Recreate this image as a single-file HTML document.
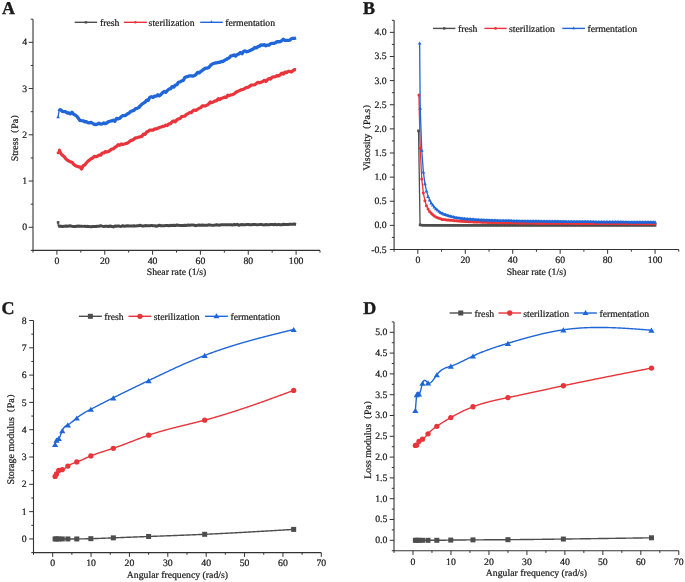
<!DOCTYPE html>
<html><head><meta charset="utf-8"><style>
html,body{margin:0;padding:0;background:#fff;width:685px;height:582px;overflow:hidden}
svg{display:block;will-change:transform}
text{text-rendering:geometricPrecision;font-family:"Liberation Serif",serif;font-size:9.75px;fill:#1a1a1a;stroke:#1a1a1a;stroke-width:0.22px}
</style></head><body>
<svg width="685" height="582" viewBox="0 0 685 582">
<rect width="685" height="582" fill="#fff"/>
<line x1="33.00" y1="250.40" x2="320.00" y2="250.40" stroke="#333" stroke-width="1.1"/>
<line x1="33.00" y1="250.90" x2="33.00" y2="19.20" stroke="#333" stroke-width="1.1"/>
<path d="M56.92,250.40v4.3 M104.75,250.40v4.3 M152.58,250.40v4.3 M200.42,250.40v4.3 M248.25,250.40v4.3 M296.08,250.40v4.3 M80.83,250.40v2.2 M128.67,250.40v2.2 M176.50,250.40v2.2 M224.33,250.40v2.2 M272.17,250.40v2.2 M320.00,250.40v2.2 M33.00,250.40v2.2 M33.00,227.28h-4.3 M33.00,181.04h-4.3 M33.00,134.80h-4.3 M33.00,88.56h-4.3 M33.00,42.32h-4.3 M33.00,250.40h-2.2 M33.00,204.16h-2.2 M33.00,157.92h-2.2 M33.00,111.68h-2.2 M33.00,65.44h-2.2 M33.00,19.20h-2.2" stroke="#333" stroke-width="1" fill="none"/>
<text x="56.92" y="263.60" text-anchor="middle">0</text>
<text x="104.75" y="263.60" text-anchor="middle">20</text>
<text x="152.58" y="263.60" text-anchor="middle">40</text>
<text x="200.42" y="263.60" text-anchor="middle">60</text>
<text x="248.25" y="263.60" text-anchor="middle">80</text>
<text x="296.08" y="263.60" text-anchor="middle">100</text>
<text x="27.20" y="230.28" text-anchor="end">0</text>
<text x="27.20" y="184.04" text-anchor="end">1</text>
<text x="27.20" y="137.80" text-anchor="end">2</text>
<text x="27.20" y="91.56" text-anchor="end">3</text>
<text x="27.20" y="45.32" text-anchor="end">4</text>
<line x1="394.10" y1="249.50" x2="678.80" y2="249.50" stroke="#333" stroke-width="1.1"/>
<line x1="394.10" y1="250.00" x2="394.10" y2="20.30" stroke="#333" stroke-width="1.1"/>
<path d="M417.82,249.50v4.3 M465.27,249.50v4.3 M512.73,249.50v4.3 M560.17,249.50v4.3 M607.62,249.50v4.3 M655.08,249.50v4.3 M441.55,249.50v2.2 M489.00,249.50v2.2 M536.45,249.50v2.2 M583.90,249.50v2.2 M631.35,249.50v2.2 M678.80,249.50v2.2 M394.10,249.50v2.2 M394.10,249.50h-4.3 M394.10,225.37h-4.3 M394.10,201.25h-4.3 M394.10,177.12h-4.3 M394.10,152.99h-4.3 M394.10,128.87h-4.3 M394.10,104.74h-4.3 M394.10,80.62h-4.3 M394.10,56.49h-4.3 M394.10,32.36h-4.3 M394.10,237.44h-2.2 M394.10,213.31h-2.2 M394.10,189.18h-2.2 M394.10,165.06h-2.2 M394.10,140.93h-2.2 M394.10,116.81h-2.2 M394.10,92.68h-2.2 M394.10,68.55h-2.2 M394.10,44.43h-2.2 M394.10,20.30h-2.2" stroke="#333" stroke-width="1" fill="none"/>
<text x="417.82" y="263.30" text-anchor="middle">0</text>
<text x="465.27" y="263.30" text-anchor="middle">20</text>
<text x="512.73" y="263.30" text-anchor="middle">40</text>
<text x="560.17" y="263.30" text-anchor="middle">60</text>
<text x="607.62" y="263.30" text-anchor="middle">80</text>
<text x="655.08" y="263.30" text-anchor="middle">100</text>
<text x="386.60" y="252.50" text-anchor="end">-0.5</text>
<text x="386.60" y="228.37" text-anchor="end">0.0</text>
<text x="386.60" y="204.25" text-anchor="end">0.5</text>
<text x="386.60" y="180.12" text-anchor="end">1.0</text>
<text x="386.60" y="155.99" text-anchor="end">1.5</text>
<text x="386.60" y="131.87" text-anchor="end">2.0</text>
<text x="386.60" y="107.74" text-anchor="end">2.5</text>
<text x="386.60" y="83.62" text-anchor="end">3.0</text>
<text x="386.60" y="59.49" text-anchor="end">3.5</text>
<text x="386.60" y="35.36" text-anchor="end">4.0</text>
<line x1="33.50" y1="552.60" x2="321.30" y2="552.60" stroke="#333" stroke-width="1.1"/>
<line x1="33.50" y1="553.10" x2="33.50" y2="320.50" stroke="#333" stroke-width="1.1"/>
<path d="M52.69,552.60v4.3 M91.06,552.60v4.3 M129.43,552.60v4.3 M167.81,552.60v4.3 M206.18,552.60v4.3 M244.55,552.60v4.3 M282.93,552.60v4.3 M321.30,552.60v4.3 M71.87,552.60v2.2 M110.25,552.60v2.2 M148.62,552.60v2.2 M186.99,552.60v2.2 M225.37,552.60v2.2 M263.74,552.60v2.2 M302.11,552.60v2.2 M33.50,552.60v2.2 M33.50,538.95h-4.3 M33.50,511.64h-4.3 M33.50,484.34h-4.3 M33.50,457.03h-4.3 M33.50,429.72h-4.3 M33.50,402.42h-4.3 M33.50,375.11h-4.3 M33.50,347.81h-4.3 M33.50,320.50h-4.3 M33.50,552.60h-2.2 M33.50,525.29h-2.2 M33.50,497.99h-2.2 M33.50,470.68h-2.2 M33.50,443.38h-2.2 M33.50,416.07h-2.2 M33.50,388.76h-2.2 M33.50,361.46h-2.2 M33.50,334.15h-2.2" stroke="#333" stroke-width="1" fill="none"/>
<text x="52.69" y="566.20" text-anchor="middle">0</text>
<text x="91.06" y="566.20" text-anchor="middle">10</text>
<text x="129.43" y="566.20" text-anchor="middle">20</text>
<text x="167.81" y="566.20" text-anchor="middle">30</text>
<text x="206.18" y="566.20" text-anchor="middle">40</text>
<text x="244.55" y="566.20" text-anchor="middle">50</text>
<text x="282.93" y="566.20" text-anchor="middle">60</text>
<text x="321.30" y="566.20" text-anchor="middle">70</text>
<text x="26.60" y="542.05" text-anchor="end">0</text>
<text x="26.60" y="514.74" text-anchor="end">1</text>
<text x="26.60" y="487.44" text-anchor="end">2</text>
<text x="26.60" y="460.13" text-anchor="end">3</text>
<text x="26.60" y="432.82" text-anchor="end">4</text>
<text x="26.60" y="405.52" text-anchor="end">5</text>
<text x="26.60" y="378.21" text-anchor="end">6</text>
<text x="26.60" y="350.91" text-anchor="end">7</text>
<text x="26.60" y="323.60" text-anchor="end">8</text>
<line x1="394.00" y1="550.70" x2="678.80" y2="550.70" stroke="#333" stroke-width="1.1"/>
<line x1="394.00" y1="551.20" x2="394.00" y2="321.90" stroke="#333" stroke-width="1.1"/>
<path d="M412.99,550.70v4.3 M450.96,550.70v4.3 M488.93,550.70v4.3 M526.91,550.70v4.3 M564.88,550.70v4.3 M602.85,550.70v4.3 M640.83,550.70v4.3 M678.80,550.70v4.3 M431.97,550.70v2.2 M469.95,550.70v2.2 M507.92,550.70v2.2 M545.89,550.70v2.2 M583.87,550.70v2.2 M621.84,550.70v2.2 M659.81,550.70v2.2 M394.00,550.70v2.2 M394.00,540.30h-4.3 M394.00,519.50h-4.3 M394.00,498.70h-4.3 M394.00,477.90h-4.3 M394.00,457.10h-4.3 M394.00,436.30h-4.3 M394.00,415.50h-4.3 M394.00,394.70h-4.3 M394.00,373.90h-4.3 M394.00,353.10h-4.3 M394.00,332.30h-4.3 M394.00,550.70h-2.2 M394.00,529.90h-2.2 M394.00,509.10h-2.2 M394.00,488.30h-2.2 M394.00,467.50h-2.2 M394.00,446.70h-2.2 M394.00,425.90h-2.2 M394.00,405.10h-2.2 M394.00,384.30h-2.2 M394.00,363.50h-2.2 M394.00,342.70h-2.2 M394.00,321.90h-2.2" stroke="#333" stroke-width="1" fill="none"/>
<text x="412.99" y="564.80" text-anchor="middle">0</text>
<text x="450.96" y="564.80" text-anchor="middle">10</text>
<text x="488.93" y="564.80" text-anchor="middle">20</text>
<text x="526.91" y="564.80" text-anchor="middle">30</text>
<text x="564.88" y="564.80" text-anchor="middle">40</text>
<text x="602.85" y="564.80" text-anchor="middle">50</text>
<text x="640.83" y="564.80" text-anchor="middle">60</text>
<text x="678.80" y="564.80" text-anchor="middle">70</text>
<text x="387.40" y="543.10" text-anchor="end">0.0</text>
<text x="387.40" y="522.30" text-anchor="end">0.5</text>
<text x="387.40" y="501.50" text-anchor="end">1.0</text>
<text x="387.40" y="480.70" text-anchor="end">1.5</text>
<text x="387.40" y="459.90" text-anchor="end">2.0</text>
<text x="387.40" y="439.10" text-anchor="end">2.5</text>
<text x="387.40" y="418.30" text-anchor="end">3.0</text>
<text x="387.40" y="397.50" text-anchor="end">3.5</text>
<text x="387.40" y="376.70" text-anchor="end">4.0</text>
<text x="387.40" y="355.90" text-anchor="end">4.5</text>
<text x="387.40" y="335.10" text-anchor="end">5.0</text>
<polyline points="58.11,222.38 58.11,226.17" fill="none" stroke="#4d4d4d" stroke-width="1.3" stroke-linejoin="round" />
<polyline points="58.11,226.17 59.31,226.09 60.89,226.33 62.48,226.58 64.07,226.35 65.65,226.00 67.24,226.32 68.83,226.00 70.42,225.87 72.01,226.22 73.60,226.49 75.19,226.54 76.78,226.25 78.37,226.05 79.96,226.19 81.55,226.14 83.14,226.37 84.72,226.21 86.31,226.39 87.90,226.36 89.49,226.59 91.08,226.66 92.67,226.42 94.26,226.57 95.85,226.54 97.44,226.17 99.03,226.36 100.62,225.66 102.21,226.13 103.79,226.50 105.38,226.17 106.97,226.24 108.56,226.46 110.15,226.02 111.74,226.43 113.33,226.94 114.92,226.02 116.51,226.33 118.10,225.82 119.69,226.29 121.28,226.39 122.86,225.73 124.45,226.32 126.04,226.00 127.63,225.69 129.22,225.97 130.81,226.00 132.40,225.93 133.99,225.74 135.58,226.09 137.17,225.74 138.76,225.73 140.35,225.30 141.93,225.89 143.52,226.00 145.11,225.60 146.70,225.84 148.29,225.66 149.88,225.67 151.47,225.41 153.06,225.81 154.65,225.66 156.24,226.22 157.83,225.82 159.42,225.24 161.00,225.74 162.59,225.73 164.18,225.83 165.77,225.40 167.36,225.48 168.95,225.78 170.54,225.33 172.13,225.41 173.72,225.28 175.31,225.59 176.90,225.02 178.49,225.32 180.07,225.42 181.66,225.50 183.25,225.42 184.84,225.15 186.43,225.40 188.02,225.07 189.61,225.17 191.20,224.98 192.79,225.08 194.38,225.27 195.97,225.68 197.56,225.16 199.14,225.03 200.73,225.16 202.32,225.05 203.91,225.27 205.50,225.24 207.09,225.35 208.68,224.80 210.27,225.07 211.86,225.20 213.45,225.38 215.04,225.09 216.63,224.71 218.21,224.92 219.80,225.18 221.39,224.67 222.98,224.65 224.57,224.74 226.16,224.77 227.75,224.67 229.34,224.79 230.93,224.73 232.52,225.07 234.11,224.53 235.70,224.80 237.28,224.37 238.87,225.30 240.46,224.65 242.05,224.57 243.64,224.86 245.23,224.66 246.82,224.58 248.41,224.60 250.00,224.84 251.59,224.74 253.18,224.45 254.77,224.38 256.35,224.64 257.94,224.63 259.53,224.58 261.12,224.37 262.71,224.84 264.30,224.89 265.89,224.54 267.48,224.81 269.07,224.67 270.66,224.50 272.25,224.39 273.84,224.74 275.42,224.29 277.01,224.87 278.60,224.32 280.19,224.79 281.78,224.71 283.37,224.25 284.96,224.48 286.55,224.55 288.14,224.45 289.73,224.23 291.32,224.33 292.91,224.31 294.49,224.05 296.08,224.44" fill="none" stroke="#474747" stroke-width="3.0" stroke-linejoin="round" />
<polyline points="58.11,152.83 59.31,150.06" fill="none" stroke="#e8343a" stroke-width="1.3" stroke-linejoin="round" />
<polyline points="59.31,150.06 60.89,153.65 62.48,155.26 64.07,156.55 65.65,158.66 67.24,159.91 68.83,161.12 70.42,161.88 72.01,162.29 73.60,164.31 75.19,165.48 76.78,166.26 78.37,166.84 79.96,166.74 81.55,169.02 83.14,165.78 84.72,164.92 86.31,162.97 87.90,161.25 89.49,159.91 91.08,158.73 92.67,158.01 94.26,156.31 95.85,156.81 97.44,156.18 99.03,155.11 100.62,155.26 102.21,153.04 103.79,152.95 105.38,151.58 106.97,152.08 108.56,151.52 110.15,150.27 111.74,149.00 113.33,148.79 114.92,147.30 116.51,146.57 118.10,144.71 119.69,145.38 121.28,143.92 122.86,144.35 124.45,144.01 126.04,143.36 127.63,143.12 129.22,141.72 130.81,140.44 132.40,140.13 133.99,139.09 135.58,137.74 137.17,137.73 138.76,137.12 140.35,136.67 141.93,136.36 143.52,133.99 145.11,134.33 146.70,131.94 148.29,131.26 149.88,130.04 151.47,130.19 153.06,130.09 154.65,128.93 156.24,128.92 157.83,128.20 159.42,127.57 161.00,127.06 162.59,126.43 164.18,126.13 165.77,125.11 167.36,125.54 168.95,123.78 170.54,123.70 172.13,121.75 173.72,120.95 175.31,121.80 176.90,119.70 178.49,118.91 180.07,118.48 181.66,116.66 183.25,116.27 184.84,116.06 186.43,114.43 188.02,113.59 189.61,112.68 191.20,112.66 192.79,110.86 194.38,110.03 195.97,110.31 197.56,109.27 199.14,108.20 200.73,107.77 202.32,105.78 203.91,105.93 205.50,105.90 207.09,105.08 208.68,103.97 210.27,101.96 211.86,102.68 213.45,101.85 215.04,100.98 216.63,100.63 218.21,98.68 219.80,99.58 221.39,98.25 222.98,97.96 224.57,97.09 226.16,97.48 227.75,95.23 229.34,95.62 230.93,94.84 232.52,94.69 234.11,93.89 235.70,92.48 237.28,91.55 238.87,90.99 240.46,90.04 242.05,89.59 243.64,89.23 245.23,88.05 246.82,87.46 248.41,87.11 250.00,85.92 251.59,85.00 253.18,84.98 254.77,84.71 256.35,83.51 257.94,82.26 259.53,82.83 261.12,82.18 262.71,81.61 264.30,80.28 265.89,81.39 267.48,79.58 269.07,78.54 270.66,79.02 272.25,77.04 273.84,76.86 275.42,76.76 277.01,75.64 278.60,75.93 280.19,74.88 281.78,73.04 283.37,74.04 284.96,72.01 286.55,72.57 288.14,71.46 289.73,71.40 291.32,72.08 292.91,70.56 294.49,69.54 296.08,69.78" fill="none" stroke="#e8343a" stroke-width="3.2" stroke-linejoin="round" />
<polyline points="58.11,116.77 59.31,109.37" fill="none" stroke="#1f66d9" stroke-width="1.3" stroke-linejoin="round" />
<polyline points="59.31,109.37 60.89,110.01 62.48,111.43 64.07,111.63 65.65,111.68 67.24,113.04 68.83,112.78 70.42,113.86 72.01,112.21 73.60,114.29 75.19,114.97 76.78,116.22 78.37,118.31 79.96,120.40 81.55,120.71 83.14,120.78 84.72,121.73 86.31,121.61 87.90,122.68 89.49,122.92 91.08,122.44 92.67,123.36 94.26,124.31 95.85,124.50 97.44,124.23 99.03,123.19 100.62,124.15 102.21,123.88 103.79,122.92 105.38,123.68 106.97,122.81 108.56,121.61 110.15,121.24 111.74,120.97 113.33,120.10 114.92,121.32 116.51,118.45 118.10,118.82 119.69,118.48 121.28,116.67 122.86,115.70 124.45,115.56 126.04,115.10 127.63,113.69 129.22,112.93 130.81,111.31 132.40,110.87 133.99,110.28 135.58,108.67 137.17,108.30 138.76,107.61 140.35,105.63 141.93,104.20 143.52,103.22 145.11,102.11 146.70,100.12 148.29,100.30 149.88,97.22 151.47,96.71 153.06,97.44 154.65,96.05 156.24,96.17 157.83,94.77 159.42,95.86 161.00,94.49 162.59,92.65 164.18,91.47 165.77,92.38 167.36,90.53 168.95,89.13 170.54,88.72 172.13,86.57 173.72,87.13 175.31,85.12 176.90,84.75 178.49,82.24 180.07,81.88 181.66,80.92 183.25,80.51 184.84,77.48 186.43,76.84 188.02,76.33 189.61,75.78 191.20,75.89 192.79,76.11 194.38,75.51 195.97,74.53 197.56,72.35 199.14,72.95 200.73,71.50 202.32,70.37 203.91,69.13 205.50,68.06 207.09,68.19 208.68,67.58 210.27,65.75 211.86,64.19 213.45,63.57 215.04,63.00 216.63,62.97 218.21,62.30 219.80,62.27 221.39,61.35 222.98,61.55 224.57,60.24 226.16,59.59 227.75,58.43 229.34,57.82 230.93,55.77 232.52,55.62 234.11,54.89 235.70,56.12 237.28,54.45 238.87,53.87 240.46,52.56 242.05,53.69 243.64,51.33 245.23,50.95 246.82,51.83 248.41,51.21 250.00,50.67 251.59,49.76 253.18,48.99 254.77,47.49 256.35,47.94 257.94,46.61 259.53,46.15 261.12,44.88 262.71,45.23 264.30,44.66 265.89,45.80 267.48,45.09 269.07,45.21 270.66,43.55 272.25,43.40 273.84,43.32 275.42,42.79 277.01,41.66 278.60,41.75 280.19,41.61 281.78,40.57 283.37,39.20 284.96,40.44 286.55,40.35 288.14,40.38 289.73,40.14 291.32,38.79 292.91,38.28 294.49,38.43 296.08,37.97" fill="none" stroke="#1f66d9" stroke-width="3.3" stroke-linejoin="round" />
<rect x="56.81" y="221.08" width="2.6" height="2.6" fill="#4d4d4d"/>
<path d="M58.11,115.17L60.01,118.36L56.21,118.36Z" fill="#1f66d9"/>
<path d="M59.31,107.77L61.21,110.96L57.41,110.96Z" fill="#1f66d9"/>
<circle cx="58.11" cy="152.83" r="1.5" fill="#e8343a"/>
<circle cx="59.31" cy="150.06" r="1.5" fill="#e8343a"/>
<polyline points="418.54,130.80 420.08,224.89 421.76,225.19 423.34,225.28 424.92,225.28 426.49,225.26 428.07,225.30 429.65,225.29 431.22,225.30 432.80,225.32 434.37,225.34 435.95,225.34 437.53,225.33 439.10,225.33 440.68,225.34 442.26,225.34 443.83,225.35 445.41,225.34 446.99,225.35 448.56,225.35 450.14,225.36 451.72,225.36 453.29,225.36 454.87,225.36 456.44,225.36 458.02,225.35 459.60,225.36 461.17,225.35 462.75,225.35 464.33,225.36 465.90,225.36 467.48,225.36 469.06,225.36 470.63,225.36 472.21,225.36 473.79,225.37 475.36,225.36 476.94,225.36 478.51,225.36 480.09,225.36 481.67,225.36 483.24,225.36 484.82,225.36 486.40,225.36 487.97,225.36 489.55,225.36 491.13,225.36 492.70,225.36 494.28,225.36 495.86,225.36 497.43,225.36 499.01,225.36 500.58,225.36 502.16,225.36 503.74,225.36 505.31,225.36 506.89,225.36 508.47,225.36 510.04,225.36 511.62,225.36 513.20,225.36 514.77,225.36 516.35,225.37 517.93,225.36 519.50,225.36 521.08,225.36 522.65,225.36 524.23,225.36 525.81,225.36 527.38,225.36 528.96,225.36 530.54,225.36 532.11,225.36 533.69,225.36 535.27,225.36 536.84,225.36 538.42,225.36 540.00,225.36 541.57,225.36 543.15,225.36 544.72,225.36 546.30,225.36 547.88,225.36 549.45,225.36 551.03,225.36 552.61,225.36 554.18,225.36 555.76,225.37 557.34,225.36 558.91,225.36 560.49,225.36 562.07,225.36 563.64,225.36 565.22,225.36 566.79,225.36 568.37,225.36 569.95,225.36 571.52,225.36 573.10,225.36 574.68,225.36 576.25,225.36 577.83,225.36 579.41,225.36 580.98,225.36 582.56,225.36 584.14,225.36 585.71,225.36 587.29,225.36 588.86,225.36 590.44,225.36 592.02,225.36 593.59,225.36 595.17,225.36 596.75,225.36 598.32,225.37 599.90,225.36 601.48,225.36 603.05,225.36 604.63,225.36 606.21,225.36 607.78,225.36 609.36,225.36 610.93,225.36 612.51,225.36 614.09,225.36 615.66,225.36 617.24,225.36 618.82,225.36 620.39,225.36 621.97,225.36 623.55,225.37 625.12,225.36 626.70,225.36 628.28,225.36 629.85,225.36 631.43,225.36 633.00,225.36 634.58,225.36 636.16,225.37 637.73,225.36 639.31,225.37 640.89,225.37 642.46,225.36 644.04,225.36 645.62,225.36 647.19,225.36 648.77,225.36 650.35,225.36 651.92,225.36 653.50,225.36 655.08,225.36" fill="none" stroke="#4d4d4d" stroke-width="1.3" stroke-linejoin="round" />
<polyline points="418.92,95.09 420.20,148.17 421.76,179.09 423.34,193.04 424.92,200.68 426.49,205.77 428.07,209.09 429.65,211.52 431.22,213.29 432.80,214.63 434.37,215.95 435.95,216.93 437.53,217.71 439.10,218.34 440.68,218.82 442.26,219.47 443.83,219.52 445.41,219.78 446.99,219.91 448.56,220.06 450.14,220.21 451.72,220.37 453.29,220.54 454.87,220.63 456.44,220.86 458.02,220.99 459.60,221.10 461.17,221.26 462.75,221.28 464.33,221.42 465.90,221.48 467.48,221.62 469.06,221.71 470.63,221.76 472.21,221.81 473.79,221.90 475.36,221.93 476.94,221.99 478.51,222.01 480.09,222.12 481.67,222.14 483.24,222.24 484.82,222.30 486.40,222.34 487.97,222.40 489.55,222.42 491.13,222.44 492.70,222.49 494.28,222.52 495.86,222.53 497.43,222.59 499.01,222.62 500.58,222.66 502.16,222.70 503.74,222.69 505.31,222.74 506.89,222.72 508.47,222.75 510.04,222.76 511.62,222.81 513.20,222.85 514.77,222.86 516.35,222.90 517.93,222.92 519.50,222.95 521.08,222.97 522.65,222.99 524.23,223.02 525.81,223.03 527.38,223.07 528.96,223.07 530.54,223.10 532.11,223.09 533.69,223.10 535.27,223.15 536.84,223.14 538.42,223.15 540.00,223.17 541.57,223.16 543.15,223.18 544.72,223.20 546.30,223.20 547.88,223.21 549.45,223.22 551.03,223.24 552.61,223.24 554.18,223.24 555.76,223.27 557.34,223.28 558.91,223.28 560.49,223.30 562.07,223.29 563.64,223.31 565.22,223.33 566.79,223.34 568.37,223.35 569.95,223.33 571.52,223.37 573.10,223.37 574.68,223.38 576.25,223.39 577.83,223.38 579.41,223.42 580.98,223.42 582.56,223.43 584.14,223.44 585.71,223.46 587.29,223.44 588.86,223.47 590.44,223.47 592.02,223.49 593.59,223.49 595.17,223.49 596.75,223.50 598.32,223.50 599.90,223.51 601.48,223.52 603.05,223.53 604.63,223.53 606.21,223.54 607.78,223.55 609.36,223.55 610.93,223.55 612.51,223.56 614.09,223.58 615.66,223.57 617.24,223.57 618.82,223.59 620.39,223.60 621.97,223.61 623.55,223.60 625.12,223.63 626.70,223.62 628.28,223.62 629.85,223.64 631.43,223.63 633.00,223.64 634.58,223.65 636.16,223.65 637.73,223.67 639.31,223.67 640.89,223.66 642.46,223.68 644.04,223.67 645.62,223.69 647.19,223.69 648.77,223.70 650.35,223.72 651.92,223.72 653.50,223.72 655.08,223.73" fill="none" stroke="#e8343a" stroke-width="1.3" stroke-linejoin="round" />
<polyline points="419.63,42.98 420.20,108.12 421.76,150.21 423.34,171.92 424.92,183.55 426.49,190.91 428.07,196.32 429.65,199.94 431.22,202.97 432.80,204.90 434.37,207.02 435.95,208.59 437.53,209.97 439.10,211.25 440.68,212.35 442.26,213.13 443.83,213.79 445.41,214.45 446.99,214.95 448.56,215.50 450.14,215.93 451.72,216.27 453.29,216.67 454.87,217.04 456.44,217.34 458.02,217.58 459.60,217.76 461.17,218.04 462.75,218.23 464.33,218.37 465.90,218.59 467.48,218.72 469.06,218.82 470.63,218.95 472.21,219.09 473.79,219.18 475.36,219.37 476.94,219.37 478.51,219.50 480.09,219.60 481.67,219.64 483.24,219.70 484.82,219.80 486.40,219.88 487.97,219.92 489.55,219.98 491.13,220.01 492.70,220.08 494.28,220.14 495.86,220.16 497.43,220.23 499.01,220.28 500.58,220.29 502.16,220.31 503.74,220.35 505.31,220.38 506.89,220.39 508.47,220.46 510.04,220.43 511.62,220.48 513.20,220.56 514.77,220.57 516.35,220.63 517.93,220.65 519.50,220.73 521.08,220.74 522.65,220.75 524.23,220.77 525.81,220.83 527.38,220.84 528.96,220.85 530.54,220.88 532.11,220.88 533.69,220.93 535.27,220.93 536.84,220.96 538.42,220.95 540.00,220.98 541.57,221.00 543.15,221.03 544.72,221.00 546.30,221.03 547.88,221.05 549.45,221.08 551.03,221.11 552.61,221.15 554.18,221.17 555.76,221.18 557.34,221.18 558.91,221.22 560.49,221.22 562.07,221.23 563.64,221.24 565.22,221.25 566.79,221.28 568.37,221.30 569.95,221.30 571.52,221.30 573.10,221.32 574.68,221.33 576.25,221.36 577.83,221.37 579.41,221.40 580.98,221.41 582.56,221.44 584.14,221.44 585.71,221.45 587.29,221.46 588.86,221.47 590.44,221.47 592.02,221.49 593.59,221.50 595.17,221.54 596.75,221.53 598.32,221.55 599.90,221.55 601.48,221.59 603.05,221.57 604.63,221.59 606.21,221.62 607.78,221.63 609.36,221.64 610.93,221.65 612.51,221.66 614.09,221.66 615.66,221.68 617.24,221.68 618.82,221.70 620.39,221.70 621.97,221.72 623.55,221.73 625.12,221.76 626.70,221.77 628.28,221.78 629.85,221.78 631.43,221.79 633.00,221.81 634.58,221.82 636.16,221.82 637.73,221.84 639.31,221.85 640.89,221.85 642.46,221.85 644.04,221.88 645.62,221.89 647.19,221.91 648.77,221.92 650.35,221.92 651.92,221.93 653.50,221.94 655.08,221.95" fill="none" stroke="#1f66d9" stroke-width="1.3" stroke-linejoin="round" />
<rect x="417.24" y="129.50" width="2.6" height="2.6" fill="#4d4d4d"/>
<rect x="418.78" y="223.59" width="2.6" height="2.6" fill="#4d4d4d"/>
<rect x="420.46" y="223.89" width="2.6" height="2.6" fill="#4d4d4d"/>
<rect x="422.04" y="223.98" width="2.6" height="2.6" fill="#4d4d4d"/>
<rect x="423.62" y="223.98" width="2.6" height="2.6" fill="#4d4d4d"/>
<rect x="425.19" y="223.96" width="2.6" height="2.6" fill="#4d4d4d"/>
<rect x="426.77" y="224.00" width="2.6" height="2.6" fill="#4d4d4d"/>
<rect x="428.35" y="223.99" width="2.6" height="2.6" fill="#4d4d4d"/>
<rect x="429.92" y="224.00" width="2.6" height="2.6" fill="#4d4d4d"/>
<rect x="431.50" y="224.02" width="2.6" height="2.6" fill="#4d4d4d"/>
<rect x="433.07" y="224.04" width="2.6" height="2.6" fill="#4d4d4d"/>
<rect x="434.65" y="224.04" width="2.6" height="2.6" fill="#4d4d4d"/>
<rect x="436.23" y="224.03" width="2.6" height="2.6" fill="#4d4d4d"/>
<rect x="437.80" y="224.03" width="2.6" height="2.6" fill="#4d4d4d"/>
<rect x="439.38" y="224.04" width="2.6" height="2.6" fill="#4d4d4d"/>
<rect x="440.96" y="224.04" width="2.6" height="2.6" fill="#4d4d4d"/>
<rect x="442.53" y="224.05" width="2.6" height="2.6" fill="#4d4d4d"/>
<rect x="444.11" y="224.04" width="2.6" height="2.6" fill="#4d4d4d"/>
<rect x="445.69" y="224.05" width="2.6" height="2.6" fill="#4d4d4d"/>
<rect x="447.26" y="224.05" width="2.6" height="2.6" fill="#4d4d4d"/>
<rect x="448.84" y="224.06" width="2.6" height="2.6" fill="#4d4d4d"/>
<rect x="450.42" y="224.06" width="2.6" height="2.6" fill="#4d4d4d"/>
<rect x="451.99" y="224.06" width="2.6" height="2.6" fill="#4d4d4d"/>
<rect x="453.57" y="224.06" width="2.6" height="2.6" fill="#4d4d4d"/>
<rect x="455.14" y="224.06" width="2.6" height="2.6" fill="#4d4d4d"/>
<rect x="456.72" y="224.05" width="2.6" height="2.6" fill="#4d4d4d"/>
<rect x="458.30" y="224.06" width="2.6" height="2.6" fill="#4d4d4d"/>
<rect x="459.87" y="224.05" width="2.6" height="2.6" fill="#4d4d4d"/>
<rect x="461.45" y="224.05" width="2.6" height="2.6" fill="#4d4d4d"/>
<rect x="463.03" y="224.06" width="2.6" height="2.6" fill="#4d4d4d"/>
<rect x="464.60" y="224.06" width="2.6" height="2.6" fill="#4d4d4d"/>
<rect x="466.18" y="224.06" width="2.6" height="2.6" fill="#4d4d4d"/>
<rect x="467.76" y="224.06" width="2.6" height="2.6" fill="#4d4d4d"/>
<rect x="469.33" y="224.06" width="2.6" height="2.6" fill="#4d4d4d"/>
<rect x="470.91" y="224.06" width="2.6" height="2.6" fill="#4d4d4d"/>
<rect x="472.49" y="224.07" width="2.6" height="2.6" fill="#4d4d4d"/>
<rect x="474.06" y="224.06" width="2.6" height="2.6" fill="#4d4d4d"/>
<rect x="475.64" y="224.06" width="2.6" height="2.6" fill="#4d4d4d"/>
<rect x="477.21" y="224.06" width="2.6" height="2.6" fill="#4d4d4d"/>
<rect x="478.79" y="224.06" width="2.6" height="2.6" fill="#4d4d4d"/>
<rect x="480.37" y="224.06" width="2.6" height="2.6" fill="#4d4d4d"/>
<rect x="481.94" y="224.06" width="2.6" height="2.6" fill="#4d4d4d"/>
<rect x="483.52" y="224.06" width="2.6" height="2.6" fill="#4d4d4d"/>
<rect x="485.10" y="224.06" width="2.6" height="2.6" fill="#4d4d4d"/>
<rect x="486.67" y="224.06" width="2.6" height="2.6" fill="#4d4d4d"/>
<rect x="488.25" y="224.06" width="2.6" height="2.6" fill="#4d4d4d"/>
<rect x="489.83" y="224.06" width="2.6" height="2.6" fill="#4d4d4d"/>
<rect x="491.40" y="224.06" width="2.6" height="2.6" fill="#4d4d4d"/>
<rect x="492.98" y="224.06" width="2.6" height="2.6" fill="#4d4d4d"/>
<rect x="494.56" y="224.06" width="2.6" height="2.6" fill="#4d4d4d"/>
<rect x="496.13" y="224.06" width="2.6" height="2.6" fill="#4d4d4d"/>
<rect x="497.71" y="224.06" width="2.6" height="2.6" fill="#4d4d4d"/>
<rect x="499.28" y="224.06" width="2.6" height="2.6" fill="#4d4d4d"/>
<rect x="500.86" y="224.06" width="2.6" height="2.6" fill="#4d4d4d"/>
<rect x="502.44" y="224.06" width="2.6" height="2.6" fill="#4d4d4d"/>
<rect x="504.01" y="224.06" width="2.6" height="2.6" fill="#4d4d4d"/>
<rect x="505.59" y="224.06" width="2.6" height="2.6" fill="#4d4d4d"/>
<rect x="507.17" y="224.06" width="2.6" height="2.6" fill="#4d4d4d"/>
<rect x="508.74" y="224.06" width="2.6" height="2.6" fill="#4d4d4d"/>
<rect x="510.32" y="224.06" width="2.6" height="2.6" fill="#4d4d4d"/>
<rect x="511.90" y="224.06" width="2.6" height="2.6" fill="#4d4d4d"/>
<rect x="513.47" y="224.06" width="2.6" height="2.6" fill="#4d4d4d"/>
<rect x="515.05" y="224.07" width="2.6" height="2.6" fill="#4d4d4d"/>
<rect x="516.63" y="224.06" width="2.6" height="2.6" fill="#4d4d4d"/>
<rect x="518.20" y="224.06" width="2.6" height="2.6" fill="#4d4d4d"/>
<rect x="519.78" y="224.06" width="2.6" height="2.6" fill="#4d4d4d"/>
<rect x="521.35" y="224.06" width="2.6" height="2.6" fill="#4d4d4d"/>
<rect x="522.93" y="224.06" width="2.6" height="2.6" fill="#4d4d4d"/>
<rect x="524.51" y="224.06" width="2.6" height="2.6" fill="#4d4d4d"/>
<rect x="526.08" y="224.06" width="2.6" height="2.6" fill="#4d4d4d"/>
<rect x="527.66" y="224.06" width="2.6" height="2.6" fill="#4d4d4d"/>
<rect x="529.24" y="224.06" width="2.6" height="2.6" fill="#4d4d4d"/>
<rect x="530.81" y="224.06" width="2.6" height="2.6" fill="#4d4d4d"/>
<rect x="532.39" y="224.06" width="2.6" height="2.6" fill="#4d4d4d"/>
<rect x="533.97" y="224.06" width="2.6" height="2.6" fill="#4d4d4d"/>
<rect x="535.54" y="224.06" width="2.6" height="2.6" fill="#4d4d4d"/>
<rect x="537.12" y="224.06" width="2.6" height="2.6" fill="#4d4d4d"/>
<rect x="538.70" y="224.06" width="2.6" height="2.6" fill="#4d4d4d"/>
<rect x="540.27" y="224.06" width="2.6" height="2.6" fill="#4d4d4d"/>
<rect x="541.85" y="224.06" width="2.6" height="2.6" fill="#4d4d4d"/>
<rect x="543.42" y="224.06" width="2.6" height="2.6" fill="#4d4d4d"/>
<rect x="545.00" y="224.06" width="2.6" height="2.6" fill="#4d4d4d"/>
<rect x="546.58" y="224.06" width="2.6" height="2.6" fill="#4d4d4d"/>
<rect x="548.15" y="224.06" width="2.6" height="2.6" fill="#4d4d4d"/>
<rect x="549.73" y="224.06" width="2.6" height="2.6" fill="#4d4d4d"/>
<rect x="551.31" y="224.06" width="2.6" height="2.6" fill="#4d4d4d"/>
<rect x="552.88" y="224.06" width="2.6" height="2.6" fill="#4d4d4d"/>
<rect x="554.46" y="224.07" width="2.6" height="2.6" fill="#4d4d4d"/>
<rect x="556.04" y="224.06" width="2.6" height="2.6" fill="#4d4d4d"/>
<rect x="557.61" y="224.06" width="2.6" height="2.6" fill="#4d4d4d"/>
<rect x="559.19" y="224.06" width="2.6" height="2.6" fill="#4d4d4d"/>
<rect x="560.77" y="224.06" width="2.6" height="2.6" fill="#4d4d4d"/>
<rect x="562.34" y="224.06" width="2.6" height="2.6" fill="#4d4d4d"/>
<rect x="563.92" y="224.06" width="2.6" height="2.6" fill="#4d4d4d"/>
<rect x="565.49" y="224.06" width="2.6" height="2.6" fill="#4d4d4d"/>
<rect x="567.07" y="224.06" width="2.6" height="2.6" fill="#4d4d4d"/>
<rect x="568.65" y="224.06" width="2.6" height="2.6" fill="#4d4d4d"/>
<rect x="570.22" y="224.06" width="2.6" height="2.6" fill="#4d4d4d"/>
<rect x="571.80" y="224.06" width="2.6" height="2.6" fill="#4d4d4d"/>
<rect x="573.38" y="224.06" width="2.6" height="2.6" fill="#4d4d4d"/>
<rect x="574.95" y="224.06" width="2.6" height="2.6" fill="#4d4d4d"/>
<rect x="576.53" y="224.06" width="2.6" height="2.6" fill="#4d4d4d"/>
<rect x="578.11" y="224.06" width="2.6" height="2.6" fill="#4d4d4d"/>
<rect x="579.68" y="224.06" width="2.6" height="2.6" fill="#4d4d4d"/>
<rect x="581.26" y="224.06" width="2.6" height="2.6" fill="#4d4d4d"/>
<rect x="582.84" y="224.06" width="2.6" height="2.6" fill="#4d4d4d"/>
<rect x="584.41" y="224.06" width="2.6" height="2.6" fill="#4d4d4d"/>
<rect x="585.99" y="224.06" width="2.6" height="2.6" fill="#4d4d4d"/>
<rect x="587.56" y="224.06" width="2.6" height="2.6" fill="#4d4d4d"/>
<rect x="589.14" y="224.06" width="2.6" height="2.6" fill="#4d4d4d"/>
<rect x="590.72" y="224.06" width="2.6" height="2.6" fill="#4d4d4d"/>
<rect x="592.29" y="224.06" width="2.6" height="2.6" fill="#4d4d4d"/>
<rect x="593.87" y="224.06" width="2.6" height="2.6" fill="#4d4d4d"/>
<rect x="595.45" y="224.06" width="2.6" height="2.6" fill="#4d4d4d"/>
<rect x="597.02" y="224.07" width="2.6" height="2.6" fill="#4d4d4d"/>
<rect x="598.60" y="224.06" width="2.6" height="2.6" fill="#4d4d4d"/>
<rect x="600.18" y="224.06" width="2.6" height="2.6" fill="#4d4d4d"/>
<rect x="601.75" y="224.06" width="2.6" height="2.6" fill="#4d4d4d"/>
<rect x="603.33" y="224.06" width="2.6" height="2.6" fill="#4d4d4d"/>
<rect x="604.91" y="224.06" width="2.6" height="2.6" fill="#4d4d4d"/>
<rect x="606.48" y="224.06" width="2.6" height="2.6" fill="#4d4d4d"/>
<rect x="608.06" y="224.06" width="2.6" height="2.6" fill="#4d4d4d"/>
<rect x="609.63" y="224.06" width="2.6" height="2.6" fill="#4d4d4d"/>
<rect x="611.21" y="224.06" width="2.6" height="2.6" fill="#4d4d4d"/>
<rect x="612.79" y="224.06" width="2.6" height="2.6" fill="#4d4d4d"/>
<rect x="614.36" y="224.06" width="2.6" height="2.6" fill="#4d4d4d"/>
<rect x="615.94" y="224.06" width="2.6" height="2.6" fill="#4d4d4d"/>
<rect x="617.52" y="224.06" width="2.6" height="2.6" fill="#4d4d4d"/>
<rect x="619.09" y="224.06" width="2.6" height="2.6" fill="#4d4d4d"/>
<rect x="620.67" y="224.06" width="2.6" height="2.6" fill="#4d4d4d"/>
<rect x="622.25" y="224.07" width="2.6" height="2.6" fill="#4d4d4d"/>
<rect x="623.82" y="224.06" width="2.6" height="2.6" fill="#4d4d4d"/>
<rect x="625.40" y="224.06" width="2.6" height="2.6" fill="#4d4d4d"/>
<rect x="626.98" y="224.06" width="2.6" height="2.6" fill="#4d4d4d"/>
<rect x="628.55" y="224.06" width="2.6" height="2.6" fill="#4d4d4d"/>
<rect x="630.13" y="224.06" width="2.6" height="2.6" fill="#4d4d4d"/>
<rect x="631.70" y="224.06" width="2.6" height="2.6" fill="#4d4d4d"/>
<rect x="633.28" y="224.06" width="2.6" height="2.6" fill="#4d4d4d"/>
<rect x="634.86" y="224.07" width="2.6" height="2.6" fill="#4d4d4d"/>
<rect x="636.43" y="224.06" width="2.6" height="2.6" fill="#4d4d4d"/>
<rect x="638.01" y="224.07" width="2.6" height="2.6" fill="#4d4d4d"/>
<rect x="639.59" y="224.07" width="2.6" height="2.6" fill="#4d4d4d"/>
<rect x="641.16" y="224.06" width="2.6" height="2.6" fill="#4d4d4d"/>
<rect x="642.74" y="224.06" width="2.6" height="2.6" fill="#4d4d4d"/>
<rect x="644.32" y="224.06" width="2.6" height="2.6" fill="#4d4d4d"/>
<rect x="645.89" y="224.06" width="2.6" height="2.6" fill="#4d4d4d"/>
<rect x="647.47" y="224.06" width="2.6" height="2.6" fill="#4d4d4d"/>
<rect x="649.05" y="224.06" width="2.6" height="2.6" fill="#4d4d4d"/>
<rect x="650.62" y="224.06" width="2.6" height="2.6" fill="#4d4d4d"/>
<rect x="652.20" y="224.06" width="2.6" height="2.6" fill="#4d4d4d"/>
<rect x="653.78" y="224.06" width="2.6" height="2.6" fill="#4d4d4d"/>
<circle cx="418.92" cy="95.09" r="1.5" fill="#e8343a"/>
<circle cx="420.20" cy="148.17" r="1.5" fill="#e8343a"/>
<circle cx="421.76" cy="179.09" r="1.5" fill="#e8343a"/>
<circle cx="423.34" cy="193.04" r="1.5" fill="#e8343a"/>
<circle cx="424.92" cy="200.68" r="1.5" fill="#e8343a"/>
<circle cx="426.49" cy="205.77" r="1.5" fill="#e8343a"/>
<circle cx="428.07" cy="209.09" r="1.5" fill="#e8343a"/>
<circle cx="429.65" cy="211.52" r="1.5" fill="#e8343a"/>
<circle cx="431.22" cy="213.29" r="1.5" fill="#e8343a"/>
<circle cx="432.80" cy="214.63" r="1.5" fill="#e8343a"/>
<circle cx="434.37" cy="215.95" r="1.5" fill="#e8343a"/>
<circle cx="435.95" cy="216.93" r="1.5" fill="#e8343a"/>
<circle cx="437.53" cy="217.71" r="1.5" fill="#e8343a"/>
<circle cx="439.10" cy="218.34" r="1.5" fill="#e8343a"/>
<circle cx="440.68" cy="218.82" r="1.5" fill="#e8343a"/>
<circle cx="442.26" cy="219.47" r="1.5" fill="#e8343a"/>
<circle cx="443.83" cy="219.52" r="1.5" fill="#e8343a"/>
<circle cx="445.41" cy="219.78" r="1.5" fill="#e8343a"/>
<circle cx="446.99" cy="219.91" r="1.5" fill="#e8343a"/>
<circle cx="448.56" cy="220.06" r="1.5" fill="#e8343a"/>
<circle cx="450.14" cy="220.21" r="1.5" fill="#e8343a"/>
<circle cx="451.72" cy="220.37" r="1.5" fill="#e8343a"/>
<circle cx="453.29" cy="220.54" r="1.5" fill="#e8343a"/>
<circle cx="454.87" cy="220.63" r="1.5" fill="#e8343a"/>
<circle cx="456.44" cy="220.86" r="1.5" fill="#e8343a"/>
<circle cx="458.02" cy="220.99" r="1.5" fill="#e8343a"/>
<circle cx="459.60" cy="221.10" r="1.5" fill="#e8343a"/>
<circle cx="461.17" cy="221.26" r="1.5" fill="#e8343a"/>
<circle cx="462.75" cy="221.28" r="1.5" fill="#e8343a"/>
<circle cx="464.33" cy="221.42" r="1.5" fill="#e8343a"/>
<circle cx="465.90" cy="221.48" r="1.5" fill="#e8343a"/>
<circle cx="467.48" cy="221.62" r="1.5" fill="#e8343a"/>
<circle cx="469.06" cy="221.71" r="1.5" fill="#e8343a"/>
<circle cx="470.63" cy="221.76" r="1.5" fill="#e8343a"/>
<circle cx="472.21" cy="221.81" r="1.5" fill="#e8343a"/>
<circle cx="473.79" cy="221.90" r="1.5" fill="#e8343a"/>
<circle cx="475.36" cy="221.93" r="1.5" fill="#e8343a"/>
<circle cx="476.94" cy="221.99" r="1.5" fill="#e8343a"/>
<circle cx="478.51" cy="222.01" r="1.5" fill="#e8343a"/>
<circle cx="480.09" cy="222.12" r="1.5" fill="#e8343a"/>
<circle cx="481.67" cy="222.14" r="1.5" fill="#e8343a"/>
<circle cx="483.24" cy="222.24" r="1.5" fill="#e8343a"/>
<circle cx="484.82" cy="222.30" r="1.5" fill="#e8343a"/>
<circle cx="486.40" cy="222.34" r="1.5" fill="#e8343a"/>
<circle cx="487.97" cy="222.40" r="1.5" fill="#e8343a"/>
<circle cx="489.55" cy="222.42" r="1.5" fill="#e8343a"/>
<circle cx="491.13" cy="222.44" r="1.5" fill="#e8343a"/>
<circle cx="492.70" cy="222.49" r="1.5" fill="#e8343a"/>
<circle cx="494.28" cy="222.52" r="1.5" fill="#e8343a"/>
<circle cx="495.86" cy="222.53" r="1.5" fill="#e8343a"/>
<circle cx="497.43" cy="222.59" r="1.5" fill="#e8343a"/>
<circle cx="499.01" cy="222.62" r="1.5" fill="#e8343a"/>
<circle cx="500.58" cy="222.66" r="1.5" fill="#e8343a"/>
<circle cx="502.16" cy="222.70" r="1.5" fill="#e8343a"/>
<circle cx="503.74" cy="222.69" r="1.5" fill="#e8343a"/>
<circle cx="505.31" cy="222.74" r="1.5" fill="#e8343a"/>
<circle cx="506.89" cy="222.72" r="1.5" fill="#e8343a"/>
<circle cx="508.47" cy="222.75" r="1.5" fill="#e8343a"/>
<circle cx="510.04" cy="222.76" r="1.5" fill="#e8343a"/>
<circle cx="511.62" cy="222.81" r="1.5" fill="#e8343a"/>
<circle cx="513.20" cy="222.85" r="1.5" fill="#e8343a"/>
<circle cx="514.77" cy="222.86" r="1.5" fill="#e8343a"/>
<circle cx="516.35" cy="222.90" r="1.5" fill="#e8343a"/>
<circle cx="517.93" cy="222.92" r="1.5" fill="#e8343a"/>
<circle cx="519.50" cy="222.95" r="1.5" fill="#e8343a"/>
<circle cx="521.08" cy="222.97" r="1.5" fill="#e8343a"/>
<circle cx="522.65" cy="222.99" r="1.5" fill="#e8343a"/>
<circle cx="524.23" cy="223.02" r="1.5" fill="#e8343a"/>
<circle cx="525.81" cy="223.03" r="1.5" fill="#e8343a"/>
<circle cx="527.38" cy="223.07" r="1.5" fill="#e8343a"/>
<circle cx="528.96" cy="223.07" r="1.5" fill="#e8343a"/>
<circle cx="530.54" cy="223.10" r="1.5" fill="#e8343a"/>
<circle cx="532.11" cy="223.09" r="1.5" fill="#e8343a"/>
<circle cx="533.69" cy="223.10" r="1.5" fill="#e8343a"/>
<circle cx="535.27" cy="223.15" r="1.5" fill="#e8343a"/>
<circle cx="536.84" cy="223.14" r="1.5" fill="#e8343a"/>
<circle cx="538.42" cy="223.15" r="1.5" fill="#e8343a"/>
<circle cx="540.00" cy="223.17" r="1.5" fill="#e8343a"/>
<circle cx="541.57" cy="223.16" r="1.5" fill="#e8343a"/>
<circle cx="543.15" cy="223.18" r="1.5" fill="#e8343a"/>
<circle cx="544.72" cy="223.20" r="1.5" fill="#e8343a"/>
<circle cx="546.30" cy="223.20" r="1.5" fill="#e8343a"/>
<circle cx="547.88" cy="223.21" r="1.5" fill="#e8343a"/>
<circle cx="549.45" cy="223.22" r="1.5" fill="#e8343a"/>
<circle cx="551.03" cy="223.24" r="1.5" fill="#e8343a"/>
<circle cx="552.61" cy="223.24" r="1.5" fill="#e8343a"/>
<circle cx="554.18" cy="223.24" r="1.5" fill="#e8343a"/>
<circle cx="555.76" cy="223.27" r="1.5" fill="#e8343a"/>
<circle cx="557.34" cy="223.28" r="1.5" fill="#e8343a"/>
<circle cx="558.91" cy="223.28" r="1.5" fill="#e8343a"/>
<circle cx="560.49" cy="223.30" r="1.5" fill="#e8343a"/>
<circle cx="562.07" cy="223.29" r="1.5" fill="#e8343a"/>
<circle cx="563.64" cy="223.31" r="1.5" fill="#e8343a"/>
<circle cx="565.22" cy="223.33" r="1.5" fill="#e8343a"/>
<circle cx="566.79" cy="223.34" r="1.5" fill="#e8343a"/>
<circle cx="568.37" cy="223.35" r="1.5" fill="#e8343a"/>
<circle cx="569.95" cy="223.33" r="1.5" fill="#e8343a"/>
<circle cx="571.52" cy="223.37" r="1.5" fill="#e8343a"/>
<circle cx="573.10" cy="223.37" r="1.5" fill="#e8343a"/>
<circle cx="574.68" cy="223.38" r="1.5" fill="#e8343a"/>
<circle cx="576.25" cy="223.39" r="1.5" fill="#e8343a"/>
<circle cx="577.83" cy="223.38" r="1.5" fill="#e8343a"/>
<circle cx="579.41" cy="223.42" r="1.5" fill="#e8343a"/>
<circle cx="580.98" cy="223.42" r="1.5" fill="#e8343a"/>
<circle cx="582.56" cy="223.43" r="1.5" fill="#e8343a"/>
<circle cx="584.14" cy="223.44" r="1.5" fill="#e8343a"/>
<circle cx="585.71" cy="223.46" r="1.5" fill="#e8343a"/>
<circle cx="587.29" cy="223.44" r="1.5" fill="#e8343a"/>
<circle cx="588.86" cy="223.47" r="1.5" fill="#e8343a"/>
<circle cx="590.44" cy="223.47" r="1.5" fill="#e8343a"/>
<circle cx="592.02" cy="223.49" r="1.5" fill="#e8343a"/>
<circle cx="593.59" cy="223.49" r="1.5" fill="#e8343a"/>
<circle cx="595.17" cy="223.49" r="1.5" fill="#e8343a"/>
<circle cx="596.75" cy="223.50" r="1.5" fill="#e8343a"/>
<circle cx="598.32" cy="223.50" r="1.5" fill="#e8343a"/>
<circle cx="599.90" cy="223.51" r="1.5" fill="#e8343a"/>
<circle cx="601.48" cy="223.52" r="1.5" fill="#e8343a"/>
<circle cx="603.05" cy="223.53" r="1.5" fill="#e8343a"/>
<circle cx="604.63" cy="223.53" r="1.5" fill="#e8343a"/>
<circle cx="606.21" cy="223.54" r="1.5" fill="#e8343a"/>
<circle cx="607.78" cy="223.55" r="1.5" fill="#e8343a"/>
<circle cx="609.36" cy="223.55" r="1.5" fill="#e8343a"/>
<circle cx="610.93" cy="223.55" r="1.5" fill="#e8343a"/>
<circle cx="612.51" cy="223.56" r="1.5" fill="#e8343a"/>
<circle cx="614.09" cy="223.58" r="1.5" fill="#e8343a"/>
<circle cx="615.66" cy="223.57" r="1.5" fill="#e8343a"/>
<circle cx="617.24" cy="223.57" r="1.5" fill="#e8343a"/>
<circle cx="618.82" cy="223.59" r="1.5" fill="#e8343a"/>
<circle cx="620.39" cy="223.60" r="1.5" fill="#e8343a"/>
<circle cx="621.97" cy="223.61" r="1.5" fill="#e8343a"/>
<circle cx="623.55" cy="223.60" r="1.5" fill="#e8343a"/>
<circle cx="625.12" cy="223.63" r="1.5" fill="#e8343a"/>
<circle cx="626.70" cy="223.62" r="1.5" fill="#e8343a"/>
<circle cx="628.28" cy="223.62" r="1.5" fill="#e8343a"/>
<circle cx="629.85" cy="223.64" r="1.5" fill="#e8343a"/>
<circle cx="631.43" cy="223.63" r="1.5" fill="#e8343a"/>
<circle cx="633.00" cy="223.64" r="1.5" fill="#e8343a"/>
<circle cx="634.58" cy="223.65" r="1.5" fill="#e8343a"/>
<circle cx="636.16" cy="223.65" r="1.5" fill="#e8343a"/>
<circle cx="637.73" cy="223.67" r="1.5" fill="#e8343a"/>
<circle cx="639.31" cy="223.67" r="1.5" fill="#e8343a"/>
<circle cx="640.89" cy="223.66" r="1.5" fill="#e8343a"/>
<circle cx="642.46" cy="223.68" r="1.5" fill="#e8343a"/>
<circle cx="644.04" cy="223.67" r="1.5" fill="#e8343a"/>
<circle cx="645.62" cy="223.69" r="1.5" fill="#e8343a"/>
<circle cx="647.19" cy="223.69" r="1.5" fill="#e8343a"/>
<circle cx="648.77" cy="223.70" r="1.5" fill="#e8343a"/>
<circle cx="650.35" cy="223.72" r="1.5" fill="#e8343a"/>
<circle cx="651.92" cy="223.72" r="1.5" fill="#e8343a"/>
<circle cx="653.50" cy="223.72" r="1.5" fill="#e8343a"/>
<circle cx="655.08" cy="223.73" r="1.5" fill="#e8343a"/>
<path d="M419.63,41.38L421.53,44.57L417.73,44.57Z" fill="#1f66d9"/>
<path d="M420.20,106.52L422.10,109.72L418.30,109.72Z" fill="#1f66d9"/>
<path d="M421.76,148.61L423.66,151.80L419.86,151.80Z" fill="#1f66d9"/>
<path d="M423.34,170.32L425.24,173.51L421.44,173.51Z" fill="#1f66d9"/>
<path d="M424.92,181.95L426.82,185.14L423.02,185.14Z" fill="#1f66d9"/>
<path d="M426.49,189.31L428.39,192.50L424.59,192.50Z" fill="#1f66d9"/>
<path d="M428.07,194.72L429.97,197.91L426.17,197.91Z" fill="#1f66d9"/>
<path d="M429.65,198.35L431.55,201.54L427.75,201.54Z" fill="#1f66d9"/>
<path d="M431.22,201.37L433.12,204.56L429.32,204.56Z" fill="#1f66d9"/>
<path d="M432.80,203.30L434.70,206.50L430.90,206.50Z" fill="#1f66d9"/>
<path d="M434.37,205.43L436.27,208.62L432.47,208.62Z" fill="#1f66d9"/>
<path d="M435.95,206.99L437.85,210.18L434.05,210.18Z" fill="#1f66d9"/>
<path d="M437.53,208.37L439.43,211.57L435.63,211.57Z" fill="#1f66d9"/>
<path d="M439.10,209.65L441.00,212.84L437.20,212.84Z" fill="#1f66d9"/>
<path d="M440.68,210.75L442.58,213.94L438.78,213.94Z" fill="#1f66d9"/>
<path d="M442.26,211.53L444.16,214.72L440.36,214.72Z" fill="#1f66d9"/>
<path d="M443.83,212.19L445.73,215.38L441.93,215.38Z" fill="#1f66d9"/>
<path d="M445.41,212.86L447.31,216.05L443.51,216.05Z" fill="#1f66d9"/>
<path d="M446.99,213.36L448.89,216.55L445.09,216.55Z" fill="#1f66d9"/>
<path d="M448.56,213.90L450.46,217.10L446.66,217.10Z" fill="#1f66d9"/>
<path d="M450.14,214.33L452.04,217.53L448.24,217.53Z" fill="#1f66d9"/>
<path d="M451.72,214.67L453.62,217.86L449.82,217.86Z" fill="#1f66d9"/>
<path d="M453.29,215.08L455.19,218.27L451.39,218.27Z" fill="#1f66d9"/>
<path d="M454.87,215.45L456.77,218.64L452.97,218.64Z" fill="#1f66d9"/>
<path d="M456.44,215.74L458.34,218.93L454.54,218.93Z" fill="#1f66d9"/>
<path d="M458.02,215.98L459.92,219.18L456.12,219.18Z" fill="#1f66d9"/>
<path d="M459.60,216.16L461.50,219.35L457.70,219.35Z" fill="#1f66d9"/>
<path d="M461.17,216.44L463.07,219.63L459.27,219.63Z" fill="#1f66d9"/>
<path d="M462.75,216.63L464.65,219.82L460.85,219.82Z" fill="#1f66d9"/>
<path d="M464.33,216.77L466.23,219.97L462.43,219.97Z" fill="#1f66d9"/>
<path d="M465.90,217.00L467.80,220.19L464.00,220.19Z" fill="#1f66d9"/>
<path d="M467.48,217.12L469.38,220.31L465.58,220.31Z" fill="#1f66d9"/>
<path d="M469.06,217.22L470.96,220.42L467.16,220.42Z" fill="#1f66d9"/>
<path d="M470.63,217.36L472.53,220.55L468.73,220.55Z" fill="#1f66d9"/>
<path d="M472.21,217.49L474.11,220.68L470.31,220.68Z" fill="#1f66d9"/>
<path d="M473.79,217.59L475.69,220.78L471.89,220.78Z" fill="#1f66d9"/>
<path d="M475.36,217.77L477.26,220.96L473.46,220.96Z" fill="#1f66d9"/>
<path d="M476.94,217.77L478.84,220.96L475.04,220.96Z" fill="#1f66d9"/>
<path d="M478.51,217.91L480.41,221.10L476.61,221.10Z" fill="#1f66d9"/>
<path d="M480.09,218.00L481.99,221.20L478.19,221.20Z" fill="#1f66d9"/>
<path d="M481.67,218.04L483.57,221.23L479.77,221.23Z" fill="#1f66d9"/>
<path d="M483.24,218.11L485.14,221.30L481.34,221.30Z" fill="#1f66d9"/>
<path d="M484.82,218.20L486.72,221.39L482.92,221.39Z" fill="#1f66d9"/>
<path d="M486.40,218.28L488.30,221.47L484.50,221.47Z" fill="#1f66d9"/>
<path d="M487.97,218.32L489.87,221.51L486.07,221.51Z" fill="#1f66d9"/>
<path d="M489.55,218.38L491.45,221.57L487.65,221.57Z" fill="#1f66d9"/>
<path d="M491.13,218.41L493.03,221.61L489.23,221.61Z" fill="#1f66d9"/>
<path d="M492.70,218.48L494.60,221.67L490.80,221.67Z" fill="#1f66d9"/>
<path d="M494.28,218.54L496.18,221.73L492.38,221.73Z" fill="#1f66d9"/>
<path d="M495.86,218.57L497.76,221.76L493.96,221.76Z" fill="#1f66d9"/>
<path d="M497.43,218.63L499.33,221.82L495.53,221.82Z" fill="#1f66d9"/>
<path d="M499.01,218.68L500.91,221.87L497.11,221.87Z" fill="#1f66d9"/>
<path d="M500.58,218.69L502.48,221.88L498.68,221.88Z" fill="#1f66d9"/>
<path d="M502.16,218.72L504.06,221.91L500.26,221.91Z" fill="#1f66d9"/>
<path d="M503.74,218.76L505.64,221.95L501.84,221.95Z" fill="#1f66d9"/>
<path d="M505.31,218.79L507.21,221.98L503.41,221.98Z" fill="#1f66d9"/>
<path d="M506.89,218.80L508.79,221.99L504.99,221.99Z" fill="#1f66d9"/>
<path d="M508.47,218.86L510.37,222.05L506.57,222.05Z" fill="#1f66d9"/>
<path d="M510.04,218.84L511.94,222.03L508.14,222.03Z" fill="#1f66d9"/>
<path d="M511.62,218.88L513.52,222.08L509.72,222.08Z" fill="#1f66d9"/>
<path d="M513.20,218.96L515.10,222.15L511.30,222.15Z" fill="#1f66d9"/>
<path d="M514.77,218.98L516.67,222.17L512.87,222.17Z" fill="#1f66d9"/>
<path d="M516.35,219.04L518.25,222.23L514.45,222.23Z" fill="#1f66d9"/>
<path d="M517.93,219.05L519.83,222.24L516.03,222.24Z" fill="#1f66d9"/>
<path d="M519.50,219.13L521.40,222.32L517.60,222.32Z" fill="#1f66d9"/>
<path d="M521.08,219.15L522.98,222.34L519.18,222.34Z" fill="#1f66d9"/>
<path d="M522.65,219.15L524.55,222.34L520.75,222.34Z" fill="#1f66d9"/>
<path d="M524.23,219.17L526.13,222.36L522.33,222.36Z" fill="#1f66d9"/>
<path d="M525.81,219.24L527.71,222.43L523.91,222.43Z" fill="#1f66d9"/>
<path d="M527.38,219.24L529.28,222.43L525.48,222.43Z" fill="#1f66d9"/>
<path d="M528.96,219.25L530.86,222.44L527.06,222.44Z" fill="#1f66d9"/>
<path d="M530.54,219.29L532.44,222.48L528.64,222.48Z" fill="#1f66d9"/>
<path d="M532.11,219.28L534.01,222.47L530.21,222.47Z" fill="#1f66d9"/>
<path d="M533.69,219.34L535.59,222.53L531.79,222.53Z" fill="#1f66d9"/>
<path d="M535.27,219.33L537.17,222.53L533.37,222.53Z" fill="#1f66d9"/>
<path d="M536.84,219.37L538.74,222.56L534.94,222.56Z" fill="#1f66d9"/>
<path d="M538.42,219.35L540.32,222.54L536.52,222.54Z" fill="#1f66d9"/>
<path d="M540.00,219.38L541.90,222.58L538.10,222.58Z" fill="#1f66d9"/>
<path d="M541.57,219.40L543.47,222.59L539.67,222.59Z" fill="#1f66d9"/>
<path d="M543.15,219.43L545.05,222.62L541.25,222.62Z" fill="#1f66d9"/>
<path d="M544.72,219.41L546.62,222.60L542.82,222.60Z" fill="#1f66d9"/>
<path d="M546.30,219.43L548.20,222.62L544.40,222.62Z" fill="#1f66d9"/>
<path d="M547.88,219.46L549.78,222.65L545.98,222.65Z" fill="#1f66d9"/>
<path d="M549.45,219.48L551.35,222.67L547.55,222.67Z" fill="#1f66d9"/>
<path d="M551.03,219.52L552.93,222.71L549.13,222.71Z" fill="#1f66d9"/>
<path d="M552.61,219.55L554.51,222.75L550.71,222.75Z" fill="#1f66d9"/>
<path d="M554.18,219.57L556.08,222.77L552.28,222.77Z" fill="#1f66d9"/>
<path d="M555.76,219.59L557.66,222.78L553.86,222.78Z" fill="#1f66d9"/>
<path d="M557.34,219.58L559.24,222.77L555.44,222.77Z" fill="#1f66d9"/>
<path d="M558.91,219.62L560.81,222.81L557.01,222.81Z" fill="#1f66d9"/>
<path d="M560.49,219.63L562.39,222.82L558.59,222.82Z" fill="#1f66d9"/>
<path d="M562.07,219.64L563.97,222.83L560.17,222.83Z" fill="#1f66d9"/>
<path d="M563.64,219.64L565.54,222.84L561.74,222.84Z" fill="#1f66d9"/>
<path d="M565.22,219.66L567.12,222.85L563.32,222.85Z" fill="#1f66d9"/>
<path d="M566.79,219.69L568.69,222.88L564.89,222.88Z" fill="#1f66d9"/>
<path d="M568.37,219.70L570.27,222.90L566.47,222.90Z" fill="#1f66d9"/>
<path d="M569.95,219.70L571.85,222.89L568.05,222.89Z" fill="#1f66d9"/>
<path d="M571.52,219.70L573.42,222.90L569.62,222.90Z" fill="#1f66d9"/>
<path d="M573.10,219.72L575.00,222.91L571.20,222.91Z" fill="#1f66d9"/>
<path d="M574.68,219.74L576.58,222.93L572.78,222.93Z" fill="#1f66d9"/>
<path d="M576.25,219.76L578.15,222.95L574.35,222.95Z" fill="#1f66d9"/>
<path d="M577.83,219.78L579.73,222.97L575.93,222.97Z" fill="#1f66d9"/>
<path d="M579.41,219.80L581.31,222.99L577.51,222.99Z" fill="#1f66d9"/>
<path d="M580.98,219.81L582.88,223.00L579.08,223.00Z" fill="#1f66d9"/>
<path d="M582.56,219.84L584.46,223.03L580.66,223.03Z" fill="#1f66d9"/>
<path d="M584.14,219.84L586.04,223.04L582.24,223.04Z" fill="#1f66d9"/>
<path d="M585.71,219.86L587.61,223.05L583.81,223.05Z" fill="#1f66d9"/>
<path d="M587.29,219.86L589.19,223.06L585.39,223.06Z" fill="#1f66d9"/>
<path d="M588.86,219.88L590.76,223.07L586.96,223.07Z" fill="#1f66d9"/>
<path d="M590.44,219.87L592.34,223.06L588.54,223.06Z" fill="#1f66d9"/>
<path d="M592.02,219.89L593.92,223.08L590.12,223.08Z" fill="#1f66d9"/>
<path d="M593.59,219.90L595.49,223.09L591.69,223.09Z" fill="#1f66d9"/>
<path d="M595.17,219.94L597.07,223.13L593.27,223.13Z" fill="#1f66d9"/>
<path d="M596.75,219.94L598.65,223.13L594.85,223.13Z" fill="#1f66d9"/>
<path d="M598.32,219.95L600.22,223.14L596.42,223.14Z" fill="#1f66d9"/>
<path d="M599.90,219.95L601.80,223.15L598.00,223.15Z" fill="#1f66d9"/>
<path d="M601.48,219.99L603.38,223.18L599.58,223.18Z" fill="#1f66d9"/>
<path d="M603.05,219.98L604.95,223.17L601.15,223.17Z" fill="#1f66d9"/>
<path d="M604.63,219.99L606.53,223.19L602.73,223.19Z" fill="#1f66d9"/>
<path d="M606.21,220.02L608.11,223.22L604.31,223.22Z" fill="#1f66d9"/>
<path d="M607.78,220.04L609.68,223.23L605.88,223.23Z" fill="#1f66d9"/>
<path d="M609.36,220.05L611.26,223.24L607.46,223.24Z" fill="#1f66d9"/>
<path d="M610.93,220.05L612.83,223.25L609.03,223.25Z" fill="#1f66d9"/>
<path d="M612.51,220.06L614.41,223.25L610.61,223.25Z" fill="#1f66d9"/>
<path d="M614.09,220.06L615.99,223.25L612.19,223.25Z" fill="#1f66d9"/>
<path d="M615.66,220.09L617.56,223.28L613.76,223.28Z" fill="#1f66d9"/>
<path d="M617.24,220.09L619.14,223.28L615.34,223.28Z" fill="#1f66d9"/>
<path d="M618.82,220.10L620.72,223.29L616.92,223.29Z" fill="#1f66d9"/>
<path d="M620.39,220.10L622.29,223.29L618.49,223.29Z" fill="#1f66d9"/>
<path d="M621.97,220.12L623.87,223.31L620.07,223.31Z" fill="#1f66d9"/>
<path d="M623.55,220.13L625.45,223.32L621.65,223.32Z" fill="#1f66d9"/>
<path d="M625.12,220.16L627.02,223.35L623.22,223.35Z" fill="#1f66d9"/>
<path d="M626.70,220.17L628.60,223.36L624.80,223.36Z" fill="#1f66d9"/>
<path d="M628.28,220.19L630.18,223.38L626.38,223.38Z" fill="#1f66d9"/>
<path d="M629.85,220.18L631.75,223.38L627.95,223.38Z" fill="#1f66d9"/>
<path d="M631.43,220.20L633.33,223.39L629.53,223.39Z" fill="#1f66d9"/>
<path d="M633.00,220.21L634.90,223.41L631.10,223.41Z" fill="#1f66d9"/>
<path d="M634.58,220.22L636.48,223.41L632.68,223.41Z" fill="#1f66d9"/>
<path d="M636.16,220.23L638.06,223.42L634.26,223.42Z" fill="#1f66d9"/>
<path d="M637.73,220.24L639.63,223.43L635.83,223.43Z" fill="#1f66d9"/>
<path d="M639.31,220.25L641.21,223.45L637.41,223.45Z" fill="#1f66d9"/>
<path d="M640.89,220.26L642.79,223.45L638.99,223.45Z" fill="#1f66d9"/>
<path d="M642.46,220.26L644.36,223.45L640.56,223.45Z" fill="#1f66d9"/>
<path d="M644.04,220.29L645.94,223.48L642.14,223.48Z" fill="#1f66d9"/>
<path d="M645.62,220.30L647.52,223.49L643.72,223.49Z" fill="#1f66d9"/>
<path d="M647.19,220.31L649.09,223.50L645.29,223.50Z" fill="#1f66d9"/>
<path d="M648.77,220.32L650.67,223.52L646.87,223.52Z" fill="#1f66d9"/>
<path d="M650.35,220.32L652.25,223.52L648.45,223.52Z" fill="#1f66d9"/>
<path d="M651.92,220.33L653.82,223.52L650.02,223.52Z" fill="#1f66d9"/>
<path d="M653.50,220.35L655.40,223.54L651.60,223.54Z" fill="#1f66d9"/>
<path d="M655.08,220.35L656.98,223.55L653.18,223.55Z" fill="#1f66d9"/>
<polyline points="55.10,538.95 55.69,538.95 56.29,538.95 56.50,538.95 56.89,538.95 57.49,538.95 58.09,538.95 58.68,538.95 58.75,538.95 59.28,538.95 59.88,538.95 60.48,538.95 61.08,538.95 61.67,538.95 62.27,538.95 62.28,538.95 62.87,538.95 63.47,538.95 64.07,538.95 64.66,538.95 65.26,538.95 65.86,538.95 66.46,538.95 67.06,538.95 67.65,538.95 67.88,538.95 68.25,538.95 68.85,538.95 69.45,538.95 70.04,538.95 70.64,538.95 71.24,538.95 71.84,538.95 72.44,538.96 73.03,538.96 73.63,538.96 74.23,538.96 74.83,538.95 75.43,538.95 76.02,538.95 76.62,538.95 76.79,538.95 77.22,538.94 77.82,538.94 78.42,538.93 79.01,538.93 79.61,538.92 80.21,538.91 80.81,538.90 81.41,538.90 82.00,538.89 82.60,538.88 83.20,538.86 83.80,538.85 84.40,538.84 84.99,538.83 85.59,538.81 86.19,538.80 86.79,538.79 87.38,538.77 87.98,538.75 88.58,538.74 89.18,538.72 89.78,538.71 90.37,538.69 90.87,538.67 90.97,538.67 91.57,538.65 92.17,538.63 92.77,538.62 93.36,538.60 93.96,538.58 94.56,538.56 95.16,538.54 95.76,538.52 96.35,538.50 96.95,538.48 97.55,538.46 98.15,538.44 98.75,538.42 99.34,538.39 99.94,538.37 100.54,538.35 101.14,538.33 101.74,538.31 102.33,538.28 102.93,538.26 103.53,538.24 104.13,538.22 104.72,538.19 105.32,538.17 105.92,538.15 106.52,538.12 107.12,538.10 107.71,538.08 108.31,538.05 108.91,538.03 109.51,538.01 110.11,537.98 110.70,537.96 111.30,537.93 111.90,537.91 112.50,537.89 113.10,537.86 113.32,537.85 113.69,537.84 114.29,537.82 114.89,537.79 115.49,537.77 116.09,537.74 116.68,537.72 117.28,537.70 117.88,537.67 118.48,537.65 119.08,537.63 119.67,537.60 120.27,537.58 120.87,537.56 121.47,537.53 122.06,537.51 122.66,537.49 123.26,537.46 123.86,537.44 124.46,537.42 125.05,537.39 125.65,537.37 126.25,537.35 126.85,537.32 127.45,537.30 128.04,537.28 128.64,537.25 129.24,537.23 129.84,537.21 130.44,537.18 131.03,537.16 131.63,537.14 132.23,537.11 132.83,537.09 133.43,537.07 134.02,537.04 134.62,537.02 135.22,537.00 135.82,536.97 136.42,536.95 137.01,536.93 137.61,536.91 138.21,536.88 138.81,536.86 139.40,536.84 140.00,536.81 140.60,536.79 141.20,536.77 141.80,536.75 142.39,536.72 142.99,536.70 143.59,536.68 144.19,536.66 144.79,536.63 145.38,536.61 145.98,536.59 146.58,536.57 147.18,536.54 147.78,536.52 148.37,536.50 148.62,536.49 148.97,536.48 149.57,536.45 150.17,536.43 150.77,536.41 151.36,536.39 151.96,536.37 152.56,536.34 153.16,536.32 153.76,536.30 154.35,536.28 154.95,536.25 155.55,536.23 156.15,536.21 156.74,536.19 157.34,536.17 157.94,536.14 158.54,536.12 159.14,536.10 159.73,536.08 160.33,536.06 160.93,536.03 161.53,536.01 162.13,535.99 162.72,535.97 163.32,535.95 163.92,535.92 164.52,535.90 165.12,535.88 165.71,535.86 166.31,535.84 166.91,535.81 167.51,535.79 168.11,535.77 168.70,535.75 169.30,535.72 169.90,535.70 170.50,535.68 171.10,535.66 171.69,535.64 172.29,535.61 172.89,535.59 173.49,535.57 174.08,535.55 174.68,535.52 175.28,535.50 175.88,535.48 176.48,535.45 177.07,535.43 177.67,535.41 178.27,535.39 178.87,535.36 179.47,535.34 180.06,535.32 180.66,535.29 181.26,535.27 181.86,535.25 182.46,535.23 183.05,535.20 183.65,535.18 184.25,535.16 184.85,535.13 185.45,535.11 186.04,535.08 186.64,535.06 187.24,535.04 187.84,535.01 188.44,534.99 189.03,534.97 189.63,534.94 190.23,534.92 190.83,534.89 191.42,534.87 192.02,534.84 192.62,534.82 193.22,534.80 193.82,534.77 194.41,534.75 195.01,534.72 195.61,534.70 196.21,534.67 196.81,534.65 197.40,534.62 198.00,534.59 198.60,534.57 199.20,534.54 199.80,534.52 200.39,534.49 200.99,534.47 201.59,534.44 202.19,534.41 202.79,534.39 203.38,534.36 203.98,534.33 204.58,534.31 204.65,534.31 205.18,534.28 205.78,534.25 206.37,534.23 206.97,534.20 207.57,534.17 208.17,534.15 208.76,534.12 209.36,534.09 209.96,534.06 210.56,534.03 211.16,534.01 211.75,533.98 212.35,533.95 212.95,533.92 213.55,533.89 214.15,533.86 214.74,533.84 215.34,533.81 215.94,533.78 216.54,533.75 217.14,533.72 217.73,533.69 218.33,533.66 218.93,533.63 219.53,533.60 220.13,533.57 220.72,533.54 221.32,533.51 221.92,533.48 222.52,533.45 223.12,533.42 223.71,533.39 224.31,533.36 224.91,533.33 225.51,533.30 226.10,533.27 226.70,533.24 227.30,533.21 227.90,533.18 228.50,533.15 229.09,533.12 229.69,533.08 230.29,533.05 230.89,533.02 231.49,532.99 232.08,532.96 232.68,532.93 233.28,532.89 233.88,532.86 234.48,532.83 235.07,532.80 235.67,532.77 236.27,532.73 236.87,532.70 237.47,532.67 238.06,532.64 238.66,532.60 239.26,532.57 239.86,532.54 240.46,532.51 241.05,532.47 241.65,532.44 242.25,532.41 242.85,532.38 243.44,532.34 244.04,532.31 244.64,532.28 245.24,532.24 245.84,532.21 246.43,532.18 247.03,532.14 247.63,532.11 248.23,532.07 248.83,532.04 249.42,532.01 250.02,531.97 250.62,531.94 251.22,531.91 251.82,531.87 252.41,531.84 253.01,531.80 253.61,531.77 254.21,531.73 254.81,531.70 255.40,531.67 256.00,531.63 256.60,531.60 257.20,531.56 257.80,531.53 258.39,531.49 258.99,531.46 259.59,531.42 260.19,531.39 260.78,531.35 261.38,531.32 261.98,531.28 262.58,531.25 263.18,531.21 263.77,531.18 264.37,531.14 264.97,531.11 265.57,531.07 266.17,531.04 266.76,531.00 267.36,530.97 267.96,530.93 268.56,530.90 269.16,530.86 269.75,530.83 270.35,530.79 270.95,530.76 271.55,530.72 272.15,530.68 272.74,530.65 273.34,530.61 273.94,530.58 274.54,530.54 275.14,530.51 275.73,530.47 276.33,530.43 276.93,530.40 277.53,530.36 278.12,530.33 278.72,530.29 279.32,530.26 279.92,530.22 280.52,530.18 281.11,530.15 281.71,530.11 282.31,530.08 282.91,530.04 283.51,530.00 284.10,529.97 284.70,529.93 285.30,529.90 285.90,529.86 286.50,529.82 287.09,529.79 287.69,529.75 288.29,529.72 288.89,529.68 289.49,529.64 290.08,529.61 290.68,529.57 291.28,529.53 291.88,529.50 292.48,529.46 293.07,529.43 293.67,529.39" fill="none" stroke="#4d4d4d" stroke-width="1.4" stroke-linejoin="round" />
<rect x="52.60" y="536.45" width="5.0" height="5.0" fill="#4d4d4d"/>
<rect x="54.00" y="536.45" width="5.0" height="5.0" fill="#4d4d4d"/>
<rect x="56.25" y="536.45" width="5.0" height="5.0" fill="#4d4d4d"/>
<rect x="59.78" y="536.45" width="5.0" height="5.0" fill="#4d4d4d"/>
<rect x="65.38" y="536.45" width="5.0" height="5.0" fill="#4d4d4d"/>
<rect x="74.29" y="536.45" width="5.0" height="5.0" fill="#4d4d4d"/>
<rect x="88.37" y="536.17" width="5.0" height="5.0" fill="#4d4d4d"/>
<rect x="110.82" y="535.35" width="5.0" height="5.0" fill="#4d4d4d"/>
<rect x="146.12" y="533.99" width="5.0" height="5.0" fill="#4d4d4d"/>
<rect x="202.15" y="531.81" width="5.0" height="5.0" fill="#4d4d4d"/>
<rect x="291.17" y="526.89" width="5.0" height="5.0" fill="#4d4d4d"/>
<polyline points="55.10,476.42 55.69,475.38 56.29,474.33 56.50,473.96 56.89,473.25 57.49,472.19 58.09,471.24 58.68,470.48 58.75,470.41 59.28,469.98 59.88,469.72 60.48,469.62 61.08,469.61 61.67,469.62 62.27,469.59 62.28,469.59 62.87,469.46 63.47,469.23 64.07,468.92 64.66,468.54 65.26,468.11 65.86,467.65 66.46,467.16 67.06,466.68 67.65,466.21 67.88,466.04 68.25,465.77 68.85,465.37 69.45,465.00 70.04,464.66 70.64,464.35 71.24,464.05 71.84,463.78 72.44,463.53 73.03,463.29 73.63,463.07 74.23,462.85 74.83,462.64 75.43,462.43 76.02,462.22 76.62,462.00 76.79,461.94 77.22,461.78 77.82,461.56 78.42,461.33 79.01,461.09 79.61,460.85 80.21,460.60 80.81,460.35 81.41,460.09 82.00,459.83 82.60,459.57 83.20,459.31 83.80,459.04 84.40,458.77 84.99,458.51 85.59,458.24 86.19,457.97 86.79,457.70 87.38,457.44 87.98,457.17 88.58,456.91 89.18,456.65 89.78,456.40 90.37,456.14 90.87,455.94 90.97,455.89 91.57,455.65 92.17,455.41 92.77,455.17 93.36,454.94 93.96,454.71 94.56,454.49 95.16,454.27 95.76,454.05 96.35,453.84 96.95,453.62 97.55,453.41 98.15,453.21 98.75,453.00 99.34,452.80 99.94,452.60 100.54,452.40 101.14,452.21 101.74,452.01 102.33,451.82 102.93,451.63 103.53,451.43 104.13,451.24 104.72,451.05 105.32,450.86 105.92,450.67 106.52,450.49 107.12,450.30 107.71,450.11 108.31,449.92 108.91,449.73 109.51,449.54 110.11,449.34 110.70,449.15 111.30,448.96 111.90,448.76 112.50,448.56 113.10,448.37 113.32,448.29 113.69,448.16 114.29,447.96 114.89,447.76 115.49,447.55 116.09,447.34 116.68,447.13 117.28,446.92 117.88,446.71 118.48,446.49 119.08,446.28 119.67,446.06 120.27,445.84 120.87,445.62 121.47,445.40 122.06,445.17 122.66,444.95 123.26,444.73 123.86,444.50 124.46,444.27 125.05,444.05 125.65,443.82 126.25,443.59 126.85,443.36 127.45,443.13 128.04,442.90 128.64,442.67 129.24,442.44 129.84,442.21 130.44,441.98 131.03,441.75 131.63,441.51 132.23,441.28 132.83,441.05 133.43,440.82 134.02,440.59 134.62,440.36 135.22,440.13 135.82,439.90 136.42,439.67 137.01,439.44 137.61,439.21 138.21,438.98 138.81,438.75 139.40,438.53 140.00,438.30 140.60,438.08 141.20,437.85 141.80,437.63 142.39,437.41 142.99,437.19 143.59,436.97 144.19,436.75 144.79,436.54 145.38,436.32 145.98,436.11 146.58,435.90 147.18,435.68 147.78,435.48 148.37,435.27 148.62,435.18 148.97,435.06 149.57,434.86 150.17,434.66 150.77,434.46 151.36,434.26 151.96,434.07 152.56,433.87 153.16,433.68 153.76,433.49 154.35,433.30 154.95,433.11 155.55,432.92 156.15,432.74 156.74,432.56 157.34,432.37 157.94,432.19 158.54,432.02 159.14,431.84 159.73,431.66 160.33,431.49 160.93,431.31 161.53,431.14 162.13,430.97 162.72,430.80 163.32,430.63 163.92,430.46 164.52,430.30 165.12,430.13 165.71,429.97 166.31,429.80 166.91,429.64 167.51,429.48 168.11,429.32 168.70,429.16 169.30,429.00 169.90,428.84 170.50,428.69 171.10,428.53 171.69,428.38 172.29,428.22 172.89,428.07 173.49,427.92 174.08,427.76 174.68,427.61 175.28,427.46 175.88,427.31 176.48,427.16 177.07,427.01 177.67,426.86 178.27,426.71 178.87,426.56 179.47,426.42 180.06,426.27 180.66,426.12 181.26,425.97 181.86,425.83 182.46,425.68 183.05,425.54 183.65,425.39 184.25,425.24 184.85,425.10 185.45,424.95 186.04,424.81 186.64,424.66 187.24,424.52 187.84,424.37 188.44,424.23 189.03,424.08 189.63,423.94 190.23,423.79 190.83,423.64 191.42,423.50 192.02,423.35 192.62,423.21 193.22,423.06 193.82,422.91 194.41,422.77 195.01,422.62 195.61,422.47 196.21,422.32 196.81,422.17 197.40,422.02 198.00,421.87 198.60,421.72 199.20,421.57 199.80,421.42 200.39,421.27 200.99,421.12 201.59,420.96 202.19,420.81 202.79,420.65 203.38,420.50 203.98,420.34 204.58,420.18 204.65,420.17 205.18,420.03 205.78,419.87 206.37,419.71 206.97,419.55 207.57,419.39 208.17,419.22 208.76,419.06 209.36,418.90 209.96,418.73 210.56,418.57 211.16,418.40 211.75,418.23 212.35,418.06 212.95,417.90 213.55,417.73 214.15,417.56 214.74,417.39 215.34,417.21 215.94,417.04 216.54,416.87 217.14,416.69 217.73,416.52 218.33,416.34 218.93,416.17 219.53,415.99 220.13,415.81 220.72,415.64 221.32,415.46 221.92,415.28 222.52,415.10 223.12,414.92 223.71,414.73 224.31,414.55 224.91,414.37 225.51,414.19 226.10,414.00 226.70,413.82 227.30,413.63 227.90,413.45 228.50,413.26 229.09,413.07 229.69,412.88 230.29,412.69 230.89,412.51 231.49,412.32 232.08,412.13 232.68,411.93 233.28,411.74 233.88,411.55 234.48,411.36 235.07,411.16 235.67,410.97 236.27,410.78 236.87,410.58 237.47,410.39 238.06,410.19 238.66,409.99 239.26,409.80 239.86,409.60 240.46,409.40 241.05,409.20 241.65,409.00 242.25,408.80 242.85,408.60 243.44,408.40 244.04,408.20 244.64,408.00 245.24,407.80 245.84,407.59 246.43,407.39 247.03,407.19 247.63,406.98 248.23,406.78 248.83,406.58 249.42,406.37 250.02,406.16 250.62,405.96 251.22,405.75 251.82,405.55 252.41,405.34 253.01,405.13 253.61,404.92 254.21,404.71 254.81,404.51 255.40,404.30 256.00,404.09 256.60,403.88 257.20,403.67 257.80,403.46 258.39,403.25 258.99,403.03 259.59,402.82 260.19,402.61 260.78,402.40 261.38,402.19 261.98,401.97 262.58,401.76 263.18,401.55 263.77,401.33 264.37,401.12 264.97,400.90 265.57,400.69 266.17,400.48 266.76,400.26 267.36,400.05 267.96,399.83 268.56,399.61 269.16,399.40 269.75,399.18 270.35,398.96 270.95,398.75 271.55,398.53 272.15,398.31 272.74,398.10 273.34,397.88 273.94,397.66 274.54,397.44 275.14,397.23 275.73,397.01 276.33,396.79 276.93,396.57 277.53,396.35 278.12,396.13 278.72,395.91 279.32,395.69 279.92,395.47 280.52,395.25 281.11,395.03 281.71,394.82 282.31,394.60 282.91,394.38 283.51,394.16 284.10,393.93 284.70,393.71 285.30,393.49 285.90,393.27 286.50,393.05 287.09,392.83 287.69,392.61 288.29,392.39 288.89,392.17 289.49,391.95 290.08,391.73 290.68,391.51 291.28,391.29 291.88,391.07 292.48,390.85 293.07,390.62 293.67,390.40" fill="none" stroke="#e8343a" stroke-width="1.4" stroke-linejoin="round" />
<circle cx="55.10" cy="476.42" r="2.65" fill="#e8343a"/>
<circle cx="56.50" cy="473.96" r="2.65" fill="#e8343a"/>
<circle cx="58.75" cy="470.41" r="2.65" fill="#e8343a"/>
<circle cx="62.28" cy="469.59" r="2.65" fill="#e8343a"/>
<circle cx="67.88" cy="466.04" r="2.65" fill="#e8343a"/>
<circle cx="76.79" cy="461.94" r="2.65" fill="#e8343a"/>
<circle cx="90.87" cy="455.94" r="2.65" fill="#e8343a"/>
<circle cx="113.32" cy="448.29" r="2.65" fill="#e8343a"/>
<circle cx="148.62" cy="435.18" r="2.65" fill="#e8343a"/>
<circle cx="204.65" cy="420.17" r="2.65" fill="#e8343a"/>
<circle cx="293.67" cy="390.40" r="2.65" fill="#e8343a"/>
<polyline points="55.10,444.47 55.69,442.33 56.29,440.56 56.50,440.10 56.89,439.49 57.49,439.04 58.09,438.84 58.68,438.52 58.75,438.46 59.28,437.77 59.88,436.62 60.48,435.19 61.08,433.61 61.67,432.03 62.27,430.56 62.28,430.54 62.87,429.32 63.47,428.31 64.07,427.49 64.66,426.84 65.26,426.32 65.86,425.90 66.46,425.54 67.06,425.23 67.65,424.93 67.88,424.81 68.25,424.60 68.85,424.25 69.45,423.86 70.04,423.45 70.64,423.01 71.24,422.56 71.84,422.09 72.44,421.60 73.03,421.11 73.63,420.61 74.23,420.10 74.83,419.60 75.43,419.10 76.02,418.60 76.62,418.11 76.79,417.98 77.22,417.64 77.82,417.18 78.42,416.73 79.01,416.29 79.61,415.86 80.21,415.45 80.81,415.04 81.41,414.65 82.00,414.26 82.60,413.88 83.20,413.51 83.80,413.15 84.40,412.79 84.99,412.44 85.59,412.10 86.19,411.76 86.79,411.43 87.38,411.10 87.98,410.78 88.58,410.46 89.18,410.14 89.78,409.82 90.37,409.50 90.87,409.24 90.97,409.19 91.57,408.88 92.17,408.56 92.77,408.25 93.36,407.94 93.96,407.62 94.56,407.31 95.16,407.00 95.76,406.69 96.35,406.38 96.95,406.07 97.55,405.76 98.15,405.46 98.75,405.15 99.34,404.84 99.94,404.53 100.54,404.23 101.14,403.92 101.74,403.62 102.33,403.31 102.93,403.01 103.53,402.70 104.13,402.40 104.72,402.09 105.32,401.79 105.92,401.49 106.52,401.19 107.12,400.88 107.71,400.58 108.31,400.28 108.91,399.98 109.51,399.68 110.11,399.38 110.70,399.08 111.30,398.78 111.90,398.48 112.50,398.18 113.10,397.89 113.32,397.78 113.69,397.59 114.29,397.29 114.89,396.99 115.49,396.70 116.09,396.40 116.68,396.10 117.28,395.81 117.88,395.51 118.48,395.21 119.08,394.92 119.67,394.62 120.27,394.33 120.87,394.03 121.47,393.74 122.06,393.45 122.66,393.15 123.26,392.86 123.86,392.57 124.46,392.27 125.05,391.98 125.65,391.69 126.25,391.40 126.85,391.10 127.45,390.81 128.04,390.52 128.64,390.23 129.24,389.94 129.84,389.65 130.44,389.35 131.03,389.06 131.63,388.77 132.23,388.48 132.83,388.19 133.43,387.90 134.02,387.61 134.62,387.32 135.22,387.03 135.82,386.74 136.42,386.45 137.01,386.17 137.61,385.88 138.21,385.59 138.81,385.30 139.40,385.01 140.00,384.72 140.60,384.43 141.20,384.14 141.80,383.86 142.39,383.57 142.99,383.28 143.59,382.99 144.19,382.70 144.79,382.42 145.38,382.13 145.98,381.84 146.58,381.55 147.18,381.27 147.78,380.98 148.37,380.69 148.62,380.57 148.97,380.40 149.57,380.12 150.17,379.83 150.77,379.54 151.36,379.25 151.96,378.97 152.56,378.68 153.16,378.39 153.76,378.11 154.35,377.82 154.95,377.53 155.55,377.25 156.15,376.96 156.74,376.68 157.34,376.39 157.94,376.11 158.54,375.82 159.14,375.54 159.73,375.25 160.33,374.97 160.93,374.68 161.53,374.40 162.13,374.11 162.72,373.83 163.32,373.55 163.92,373.27 164.52,372.98 165.12,372.70 165.71,372.42 166.31,372.14 166.91,371.86 167.51,371.58 168.11,371.30 168.70,371.02 169.30,370.74 169.90,370.46 170.50,370.18 171.10,369.90 171.69,369.63 172.29,369.35 172.89,369.07 173.49,368.80 174.08,368.52 174.68,368.25 175.28,367.97 175.88,367.70 176.48,367.43 177.07,367.16 177.67,366.88 178.27,366.61 178.87,366.34 179.47,366.07 180.06,365.80 180.66,365.53 181.26,365.27 181.86,365.00 182.46,364.73 183.05,364.47 183.65,364.20 184.25,363.94 184.85,363.68 185.45,363.41 186.04,363.15 186.64,362.89 187.24,362.63 187.84,362.37 188.44,362.11 189.03,361.85 189.63,361.60 190.23,361.34 190.83,361.08 191.42,360.83 192.02,360.58 192.62,360.32 193.22,360.07 193.82,359.82 194.41,359.57 195.01,359.32 195.61,359.07 196.21,358.83 196.81,358.58 197.40,358.34 198.00,358.09 198.60,357.85 199.20,357.61 199.80,357.37 200.39,357.13 200.99,356.89 201.59,356.65 202.19,356.41 202.79,356.18 203.38,355.94 203.98,355.71 204.58,355.48 204.65,355.45 205.18,355.25 205.78,355.02 206.37,354.79 206.97,354.56 207.57,354.33 208.17,354.11 208.76,353.88 209.36,353.66 209.96,353.44 210.56,353.22 211.16,353.00 211.75,352.78 212.35,352.56 212.95,352.34 213.55,352.13 214.15,351.91 214.74,351.70 215.34,351.49 215.94,351.28 216.54,351.07 217.14,350.86 217.73,350.65 218.33,350.44 218.93,350.23 219.53,350.03 220.13,349.82 220.72,349.62 221.32,349.42 221.92,349.21 222.52,349.01 223.12,348.81 223.71,348.61 224.31,348.42 224.91,348.22 225.51,348.02 226.10,347.83 226.70,347.63 227.30,347.44 227.90,347.25 228.50,347.05 229.09,346.86 229.69,346.67 230.29,346.48 230.89,346.29 231.49,346.11 232.08,345.92 232.68,345.73 233.28,345.55 233.88,345.36 234.48,345.18 235.07,345.00 235.67,344.81 236.27,344.63 236.87,344.45 237.47,344.27 238.06,344.09 238.66,343.91 239.26,343.73 239.86,343.56 240.46,343.38 241.05,343.20 241.65,343.03 242.25,342.85 242.85,342.68 243.44,342.51 244.04,342.33 244.64,342.16 245.24,341.99 245.84,341.82 246.43,341.65 247.03,341.48 247.63,341.31 248.23,341.14 248.83,340.98 249.42,340.81 250.02,340.64 250.62,340.48 251.22,340.31 251.82,340.15 252.41,339.98 253.01,339.82 253.61,339.66 254.21,339.49 254.81,339.33 255.40,339.17 256.00,339.01 256.60,338.85 257.20,338.69 257.80,338.53 258.39,338.37 258.99,338.21 259.59,338.05 260.19,337.89 260.78,337.73 261.38,337.58 261.98,337.42 262.58,337.26 263.18,337.11 263.77,336.95 264.37,336.80 264.97,336.64 265.57,336.49 266.17,336.33 266.76,336.18 267.36,336.03 267.96,335.87 268.56,335.72 269.16,335.57 269.75,335.42 270.35,335.27 270.95,335.12 271.55,334.96 272.15,334.81 272.74,334.66 273.34,334.51 273.94,334.36 274.54,334.21 275.14,334.06 275.73,333.91 276.33,333.77 276.93,333.62 277.53,333.47 278.12,333.32 278.72,333.17 279.32,333.02 279.92,332.88 280.52,332.73 281.11,332.58 281.71,332.43 282.31,332.29 282.91,332.14 283.51,331.99 284.10,331.85 284.70,331.70 285.30,331.55 285.90,331.41 286.50,331.26 287.09,331.11 287.69,330.97 288.29,330.82 288.89,330.68 289.49,330.53 290.08,330.38 290.68,330.24 291.28,330.09 291.88,329.95 292.48,329.80 293.07,329.66 293.67,329.51" fill="none" stroke="#1f66d9" stroke-width="1.4" stroke-linejoin="round" />
<path d="M55.10,441.86L58.20,447.07L52.00,447.07Z" fill="#1f66d9"/>
<path d="M56.50,437.50L59.60,442.70L53.40,442.70Z" fill="#1f66d9"/>
<path d="M58.75,435.86L61.85,441.07L55.65,441.07Z" fill="#1f66d9"/>
<path d="M62.28,427.94L65.38,433.15L59.18,433.15Z" fill="#1f66d9"/>
<path d="M67.88,422.20L70.98,427.41L64.78,427.41Z" fill="#1f66d9"/>
<path d="M76.79,415.38L79.89,420.59L73.69,420.59Z" fill="#1f66d9"/>
<path d="M90.87,406.64L93.97,411.85L87.77,411.85Z" fill="#1f66d9"/>
<path d="M113.32,395.17L116.42,400.38L110.22,400.38Z" fill="#1f66d9"/>
<path d="M148.62,377.97L151.72,383.18L145.52,383.18Z" fill="#1f66d9"/>
<path d="M204.65,352.85L207.75,358.06L201.55,358.06Z" fill="#1f66d9"/>
<path d="M293.67,326.91L296.77,332.11L290.57,332.11Z" fill="#1f66d9"/>
<polyline points="415.37,540.30 415.96,540.30 416.55,540.30 416.76,540.30 417.15,540.30 417.74,540.30 418.33,540.30 418.92,540.30 418.99,540.30 419.51,540.30 420.10,540.30 420.70,540.30 421.29,540.30 421.88,540.30 422.47,540.30 422.48,540.30 423.06,540.30 423.66,540.30 424.25,540.30 424.84,540.30 425.43,540.30 426.02,540.30 426.61,540.30 427.21,540.30 427.80,540.30 428.02,540.30 428.39,540.30 428.98,540.30 429.57,540.30 430.16,540.30 430.76,540.31 431.35,540.31 431.94,540.31 432.53,540.31 433.12,540.31 433.71,540.31 434.31,540.31 434.90,540.31 435.49,540.31 436.08,540.30 436.67,540.30 436.83,540.30 437.26,540.30 437.86,540.29 438.45,540.29 439.04,540.28 439.63,540.28 440.22,540.27 440.81,540.26 441.41,540.25 442.00,540.24 442.59,540.23 443.18,540.22 443.77,540.21 444.36,540.20 444.96,540.19 445.55,540.18 446.14,540.17 446.73,540.16 447.32,540.15 447.91,540.14 448.51,540.13 449.10,540.12 449.69,540.11 450.28,540.10 450.77,540.09 450.87,540.09 451.47,540.08 452.06,540.07 452.65,540.06 453.24,540.05 453.83,540.05 454.42,540.04 455.02,540.03 455.61,540.02 456.20,540.02 456.79,540.01 457.38,540.00 457.97,540.00 458.57,539.99 459.16,539.98 459.75,539.98 460.34,539.97 460.93,539.97 461.52,539.96 462.12,539.96 462.71,539.95 463.30,539.95 463.89,539.94 464.48,539.94 465.07,539.93 465.67,539.93 466.26,539.92 466.85,539.92 467.44,539.92 468.03,539.91 468.62,539.91 469.22,539.91 469.81,539.90 470.40,539.90 470.99,539.90 471.58,539.89 472.17,539.89 472.77,539.89 472.98,539.88 473.36,539.88 473.95,539.88 474.54,539.88 475.13,539.87 475.72,539.87 476.32,539.87 476.91,539.86 477.50,539.86 478.09,539.86 478.68,539.85 479.27,539.85 479.87,539.85 480.46,539.84 481.05,539.84 481.64,539.84 482.23,539.83 482.83,539.83 483.42,539.83 484.01,539.82 484.60,539.82 485.19,539.82 485.78,539.81 486.38,539.81 486.97,539.81 487.56,539.81 488.15,539.80 488.74,539.80 489.33,539.80 489.93,539.79 490.52,539.79 491.11,539.79 491.70,539.78 492.29,539.78 492.88,539.78 493.48,539.77 494.07,539.77 494.66,539.77 495.25,539.76 495.84,539.76 496.43,539.75 497.03,539.75 497.62,539.75 498.21,539.74 498.80,539.74 499.39,539.74 499.98,539.73 500.58,539.73 501.17,539.72 501.76,539.72 502.35,539.72 502.94,539.71 503.53,539.71 504.13,539.70 504.72,539.70 505.31,539.70 505.90,539.69 506.49,539.69 507.08,539.68 507.68,539.68 507.92,539.68 508.27,539.67 508.86,539.67 509.45,539.66 510.04,539.66 510.63,539.65 511.23,539.65 511.82,539.64 512.41,539.64 513.00,539.63 513.59,539.63 514.19,539.62 514.78,539.62 515.37,539.61 515.96,539.61 516.55,539.60 517.14,539.60 517.74,539.59 518.33,539.59 518.92,539.58 519.51,539.58 520.10,539.57 520.69,539.56 521.29,539.56 521.88,539.55 522.47,539.55 523.06,539.54 523.65,539.53 524.24,539.53 524.84,539.52 525.43,539.52 526.02,539.51 526.61,539.50 527.20,539.50 527.79,539.49 528.39,539.48 528.98,539.48 529.57,539.47 530.16,539.47 530.75,539.46 531.34,539.45 531.94,539.45 532.53,539.44 533.12,539.43 533.71,539.43 534.30,539.42 534.89,539.41 535.49,539.41 536.08,539.40 536.67,539.39 537.26,539.38 537.85,539.38 538.44,539.37 539.04,539.36 539.63,539.36 540.22,539.35 540.81,539.34 541.40,539.33 541.99,539.33 542.59,539.32 543.18,539.31 543.77,539.31 544.36,539.30 544.95,539.29 545.55,539.28 546.14,539.28 546.73,539.27 547.32,539.26 547.91,539.25 548.50,539.25 549.10,539.24 549.69,539.23 550.28,539.22 550.87,539.22 551.46,539.21 552.05,539.20 552.65,539.19 553.24,539.19 553.83,539.18 554.42,539.17 555.01,539.16 555.60,539.15 556.20,539.15 556.79,539.14 557.38,539.13 557.97,539.12 558.56,539.12 559.15,539.11 559.75,539.10 560.34,539.09 560.93,539.08 561.52,539.08 562.11,539.07 562.70,539.06 563.30,539.05 563.36,539.05 563.89,539.04 564.48,539.04 565.07,539.03 565.66,539.02 566.25,539.01 566.85,539.01 567.44,539.00 568.03,538.99 568.62,538.98 569.21,538.97 569.80,538.97 570.40,538.96 570.99,538.95 571.58,538.94 572.17,538.93 572.76,538.92 573.35,538.92 573.95,538.91 574.54,538.90 575.13,538.89 575.72,538.88 576.31,538.88 576.91,538.87 577.50,538.86 578.09,538.85 578.68,538.84 579.27,538.84 579.86,538.83 580.46,538.82 581.05,538.81 581.64,538.80 582.23,538.79 582.82,538.79 583.41,538.78 584.01,538.77 584.60,538.76 585.19,538.75 585.78,538.75 586.37,538.74 586.96,538.73 587.56,538.72 588.15,538.71 588.74,538.70 589.33,538.70 589.92,538.69 590.51,538.68 591.11,538.67 591.70,538.66 592.29,538.65 592.88,538.65 593.47,538.64 594.06,538.63 594.66,538.62 595.25,538.61 595.84,538.60 596.43,538.60 597.02,538.59 597.61,538.58 598.21,538.57 598.80,538.56 599.39,538.55 599.98,538.55 600.57,538.54 601.16,538.53 601.76,538.52 602.35,538.51 602.94,538.50 603.53,538.50 604.12,538.49 604.71,538.48 605.31,538.47 605.90,538.46 606.49,538.45 607.08,538.45 607.67,538.44 608.27,538.43 608.86,538.42 609.45,538.41 610.04,538.40 610.63,538.39 611.22,538.39 611.82,538.38 612.41,538.37 613.00,538.36 613.59,538.35 614.18,538.34 614.77,538.34 615.37,538.33 615.96,538.32 616.55,538.31 617.14,538.30 617.73,538.29 618.32,538.28 618.92,538.28 619.51,538.27 620.10,538.26 620.69,538.25 621.28,538.24 621.87,538.23 622.47,538.22 623.06,538.22 623.65,538.21 624.24,538.20 624.83,538.19 625.42,538.18 626.02,538.17 626.61,538.16 627.20,538.16 627.79,538.15 628.38,538.14 628.97,538.13 629.57,538.12 630.16,538.11 630.75,538.10 631.34,538.10 631.93,538.09 632.52,538.08 633.12,538.07 633.71,538.06 634.30,538.05 634.89,538.04 635.48,538.04 636.08,538.03 636.67,538.02 637.26,538.01 637.85,538.00 638.44,537.99 639.03,537.98 639.63,537.98 640.22,537.97 640.81,537.96 641.40,537.95 641.99,537.94 642.58,537.93 643.18,537.92 643.77,537.92 644.36,537.91 644.95,537.90 645.54,537.89 646.13,537.88 646.73,537.87 647.32,537.86 647.91,537.86 648.50,537.85 649.09,537.84 649.68,537.83 650.28,537.82 650.87,537.81 651.46,537.80" fill="none" stroke="#4d4d4d" stroke-width="1.4" stroke-linejoin="round" />
<rect x="412.87" y="537.80" width="5.0" height="5.0" fill="#4d4d4d"/>
<rect x="414.26" y="537.80" width="5.0" height="5.0" fill="#4d4d4d"/>
<rect x="416.49" y="537.80" width="5.0" height="5.0" fill="#4d4d4d"/>
<rect x="419.98" y="537.80" width="5.0" height="5.0" fill="#4d4d4d"/>
<rect x="425.52" y="537.80" width="5.0" height="5.0" fill="#4d4d4d"/>
<rect x="434.33" y="537.80" width="5.0" height="5.0" fill="#4d4d4d"/>
<rect x="448.27" y="537.59" width="5.0" height="5.0" fill="#4d4d4d"/>
<rect x="470.48" y="537.38" width="5.0" height="5.0" fill="#4d4d4d"/>
<rect x="505.42" y="537.18" width="5.0" height="5.0" fill="#4d4d4d"/>
<rect x="560.86" y="536.55" width="5.0" height="5.0" fill="#4d4d4d"/>
<rect x="648.96" y="535.30" width="5.0" height="5.0" fill="#4d4d4d"/>
<polyline points="415.37,445.45 415.96,445.44 416.55,445.21 416.76,445.04 417.15,444.57 417.74,443.57 418.33,442.44 418.92,441.39 418.99,441.29 419.51,440.62 420.10,440.11 420.70,439.80 421.29,439.59 421.88,439.42 422.47,439.22 422.48,439.21 423.06,438.90 423.66,438.49 424.25,437.99 424.84,437.42 425.43,436.79 426.02,436.13 426.61,435.44 427.21,434.75 427.80,434.06 428.02,433.80 428.39,433.40 428.98,432.77 429.57,432.16 430.16,431.59 430.76,431.03 431.35,430.50 431.94,429.99 432.53,429.50 433.12,429.02 433.71,428.56 434.31,428.12 434.90,427.68 435.49,427.26 436.08,426.84 436.67,426.43 436.83,426.32 437.26,426.02 437.86,425.62 438.45,425.22 439.04,424.82 439.63,424.43 440.22,424.04 440.81,423.65 441.41,423.27 442.00,422.89 442.59,422.51 443.18,422.13 443.77,421.76 444.36,421.40 444.96,421.03 445.55,420.67 446.14,420.31 446.73,419.95 447.32,419.60 447.91,419.24 448.51,418.89 449.10,418.55 449.69,418.20 450.28,417.86 450.77,417.58 450.87,417.52 451.47,417.18 452.06,416.85 452.65,416.51 453.24,416.18 453.83,415.85 454.42,415.53 455.02,415.21 455.61,414.88 456.20,414.57 456.79,414.25 457.38,413.94 457.97,413.63 458.57,413.32 459.16,413.01 459.75,412.71 460.34,412.41 460.93,412.11 461.52,411.82 462.12,411.53 462.71,411.24 463.30,410.96 463.89,410.67 464.48,410.40 465.07,410.12 465.67,409.85 466.26,409.58 466.85,409.31 467.44,409.05 468.03,408.79 468.62,408.54 469.22,408.29 469.81,408.04 470.40,407.79 470.99,407.55 471.58,407.31 472.17,407.08 472.77,406.85 472.98,406.76 473.36,406.62 473.95,406.40 474.54,406.18 475.13,405.96 475.72,405.75 476.32,405.54 476.91,405.34 477.50,405.14 478.09,404.94 478.68,404.74 479.27,404.55 479.87,404.36 480.46,404.17 481.05,403.99 481.64,403.81 482.23,403.63 482.83,403.46 483.42,403.28 484.01,403.11 484.60,402.95 485.19,402.78 485.78,402.62 486.38,402.46 486.97,402.30 487.56,402.15 488.15,401.99 488.74,401.84 489.33,401.69 489.93,401.54 490.52,401.40 491.11,401.25 491.70,401.11 492.29,400.97 492.88,400.83 493.48,400.69 494.07,400.56 494.66,400.42 495.25,400.29 495.84,400.16 496.43,400.02 497.03,399.89 497.62,399.76 498.21,399.64 498.80,399.51 499.39,399.38 499.98,399.26 500.58,399.13 501.17,399.01 501.76,398.88 502.35,398.76 502.94,398.64 503.53,398.52 504.13,398.39 504.72,398.27 505.31,398.15 505.90,398.03 506.49,397.91 507.08,397.78 507.68,397.66 507.92,397.61 508.27,397.54 508.86,397.42 509.45,397.30 510.04,397.17 510.63,397.05 511.23,396.93 511.82,396.80 512.41,396.68 513.00,396.56 513.59,396.43 514.19,396.31 514.78,396.18 515.37,396.06 515.96,395.94 516.55,395.81 517.14,395.69 517.74,395.56 518.33,395.44 518.92,395.31 519.51,395.18 520.10,395.06 520.69,394.93 521.29,394.81 521.88,394.68 522.47,394.56 523.06,394.43 523.65,394.30 524.24,394.18 524.84,394.05 525.43,393.92 526.02,393.80 526.61,393.67 527.20,393.54 527.79,393.42 528.39,393.29 528.98,393.16 529.57,393.03 530.16,392.91 530.75,392.78 531.34,392.65 531.94,392.52 532.53,392.40 533.12,392.27 533.71,392.14 534.30,392.01 534.89,391.89 535.49,391.76 536.08,391.63 536.67,391.50 537.26,391.37 537.85,391.25 538.44,391.12 539.04,390.99 539.63,390.86 540.22,390.73 540.81,390.61 541.40,390.48 541.99,390.35 542.59,390.22 543.18,390.09 543.77,389.97 544.36,389.84 544.95,389.71 545.55,389.58 546.14,389.45 546.73,389.33 547.32,389.20 547.91,389.07 548.50,388.94 549.10,388.81 549.69,388.69 550.28,388.56 550.87,388.43 551.46,388.30 552.05,388.18 552.65,388.05 553.24,387.92 553.83,387.79 554.42,387.67 555.01,387.54 555.60,387.41 556.20,387.29 556.79,387.16 557.38,387.03 557.97,386.90 558.56,386.78 559.15,386.65 559.75,386.53 560.34,386.40 560.93,386.27 561.52,386.15 562.11,386.02 562.70,385.90 563.30,385.77 563.36,385.76 563.89,385.64 564.48,385.52 565.07,385.39 565.66,385.27 566.25,385.14 566.85,385.02 567.44,384.89 568.03,384.77 568.62,384.65 569.21,384.52 569.80,384.40 570.40,384.27 570.99,384.15 571.58,384.02 572.17,383.90 572.76,383.78 573.35,383.65 573.95,383.53 574.54,383.41 575.13,383.28 575.72,383.16 576.31,383.04 576.91,382.92 577.50,382.79 578.09,382.67 578.68,382.55 579.27,382.43 579.86,382.30 580.46,382.18 581.05,382.06 581.64,381.94 582.23,381.82 582.82,381.70 583.41,381.57 584.01,381.45 584.60,381.33 585.19,381.21 585.78,381.09 586.37,380.97 586.96,380.85 587.56,380.73 588.15,380.61 588.74,380.49 589.33,380.36 589.92,380.24 590.51,380.12 591.11,380.00 591.70,379.88 592.29,379.76 592.88,379.64 593.47,379.52 594.06,379.40 594.66,379.28 595.25,379.17 595.84,379.05 596.43,378.93 597.02,378.81 597.61,378.69 598.21,378.57 598.80,378.45 599.39,378.33 599.98,378.21 600.57,378.09 601.16,377.97 601.76,377.86 602.35,377.74 602.94,377.62 603.53,377.50 604.12,377.38 604.71,377.26 605.31,377.15 605.90,377.03 606.49,376.91 607.08,376.79 607.67,376.67 608.27,376.56 608.86,376.44 609.45,376.32 610.04,376.20 610.63,376.09 611.22,375.97 611.82,375.85 612.41,375.73 613.00,375.62 613.59,375.50 614.18,375.38 614.77,375.26 615.37,375.15 615.96,375.03 616.55,374.91 617.14,374.80 617.73,374.68 618.32,374.56 618.92,374.45 619.51,374.33 620.10,374.21 620.69,374.10 621.28,373.98 621.87,373.86 622.47,373.75 623.06,373.63 623.65,373.51 624.24,373.40 624.83,373.28 625.42,373.16 626.02,373.05 626.61,372.93 627.20,372.82 627.79,372.70 628.38,372.58 628.97,372.47 629.57,372.35 630.16,372.24 630.75,372.12 631.34,372.00 631.93,371.89 632.52,371.77 633.12,371.66 633.71,371.54 634.30,371.42 634.89,371.31 635.48,371.19 636.08,371.08 636.67,370.96 637.26,370.85 637.85,370.73 638.44,370.62 639.03,370.50 639.63,370.38 640.22,370.27 640.81,370.15 641.40,370.04 641.99,369.92 642.58,369.81 643.18,369.69 643.77,369.58 644.36,369.46 644.95,369.34 645.54,369.23 646.13,369.11 646.73,369.00 647.32,368.88 647.91,368.77 648.50,368.65 649.09,368.54 649.68,368.42 650.28,368.31 650.87,368.19 651.46,368.08" fill="none" stroke="#e8343a" stroke-width="1.4" stroke-linejoin="round" />
<circle cx="415.37" cy="445.45" r="2.65" fill="#e8343a"/>
<circle cx="416.76" cy="445.04" r="2.65" fill="#e8343a"/>
<circle cx="418.99" cy="441.29" r="2.65" fill="#e8343a"/>
<circle cx="422.48" cy="439.21" r="2.65" fill="#e8343a"/>
<circle cx="428.02" cy="433.80" r="2.65" fill="#e8343a"/>
<circle cx="436.83" cy="426.32" r="2.65" fill="#e8343a"/>
<circle cx="450.77" cy="417.58" r="2.65" fill="#e8343a"/>
<circle cx="472.98" cy="406.76" r="2.65" fill="#e8343a"/>
<circle cx="507.92" cy="397.61" r="2.65" fill="#e8343a"/>
<circle cx="563.36" cy="385.76" r="2.65" fill="#e8343a"/>
<circle cx="651.46" cy="368.08" r="2.65" fill="#e8343a"/>
<polyline points="415.37,410.51 415.96,402.62 416.55,396.27 416.76,394.70 417.15,392.87 417.74,392.22 418.33,392.98 418.92,393.83 418.99,393.87 419.51,393.62 420.10,392.32 420.70,390.28 421.29,387.86 421.88,385.41 422.47,383.29 422.48,383.26 423.06,381.76 423.66,380.83 424.25,380.38 424.84,380.33 425.43,380.58 426.02,381.04 426.61,381.60 427.21,382.19 427.80,382.69 428.02,382.84 428.39,383.03 428.98,383.16 429.57,383.12 430.16,382.91 430.76,382.55 431.35,382.07 431.94,381.47 432.53,380.79 433.12,380.03 433.71,379.22 434.31,378.37 434.90,377.50 435.49,376.62 436.08,375.77 436.67,374.95 436.83,374.73 437.26,374.18 437.86,373.46 438.45,372.80 439.04,372.19 439.63,371.62 440.22,371.10 440.81,370.62 441.41,370.18 442.00,369.78 442.59,369.41 443.18,369.07 443.77,368.76 444.36,368.47 444.96,368.20 445.55,367.96 446.14,367.73 446.73,367.51 447.32,367.31 447.91,367.11 448.51,366.93 449.10,366.74 449.69,366.55 450.28,366.36 450.77,366.20 450.87,366.17 451.47,365.97 452.06,365.76 452.65,365.54 453.24,365.32 453.83,365.09 454.42,364.86 455.02,364.62 455.61,364.37 456.20,364.12 456.79,363.86 457.38,363.60 457.97,363.34 458.57,363.07 459.16,362.80 459.75,362.52 460.34,362.24 460.93,361.96 461.52,361.67 462.12,361.38 462.71,361.09 463.30,360.80 463.89,360.51 464.48,360.21 465.07,359.92 465.67,359.62 466.26,359.32 466.85,359.03 467.44,358.73 468.03,358.43 468.62,358.14 469.22,357.84 469.81,357.55 470.40,357.26 470.99,356.97 471.58,356.68 472.17,356.40 472.77,356.12 472.98,356.01 473.36,355.84 473.95,355.56 474.54,355.29 475.13,355.02 475.72,354.75 476.32,354.49 476.91,354.23 477.50,353.97 478.09,353.71 478.68,353.46 479.27,353.21 479.87,352.96 480.46,352.72 481.05,352.48 481.64,352.24 482.23,352.00 482.83,351.76 483.42,351.53 484.01,351.30 484.60,351.07 485.19,350.85 485.78,350.62 486.38,350.40 486.97,350.18 487.56,349.97 488.15,349.75 488.74,349.54 489.33,349.32 489.93,349.11 490.52,348.91 491.11,348.70 491.70,348.49 492.29,348.29 492.88,348.09 493.48,347.89 494.07,347.69 494.66,347.49 495.25,347.30 495.84,347.10 496.43,346.91 497.03,346.71 497.62,346.52 498.21,346.33 498.80,346.14 499.39,345.96 499.98,345.77 500.58,345.58 501.17,345.40 501.76,345.21 502.35,345.03 502.94,344.84 503.53,344.66 504.13,344.48 504.72,344.30 505.31,344.12 505.90,343.94 506.49,343.76 507.08,343.58 507.68,343.40 507.92,343.32 508.27,343.22 508.86,343.04 509.45,342.86 510.04,342.68 510.63,342.50 511.23,342.33 511.82,342.15 512.41,341.97 513.00,341.79 513.59,341.62 514.19,341.44 514.78,341.27 515.37,341.09 515.96,340.92 516.55,340.74 517.14,340.57 517.74,340.40 518.33,340.22 518.92,340.05 519.51,339.88 520.10,339.71 520.69,339.54 521.29,339.37 521.88,339.20 522.47,339.03 523.06,338.86 523.65,338.69 524.24,338.53 524.84,338.36 525.43,338.19 526.02,338.03 526.61,337.86 527.20,337.70 527.79,337.54 528.39,337.38 528.98,337.22 529.57,337.06 530.16,336.90 530.75,336.74 531.34,336.58 531.94,336.42 532.53,336.27 533.12,336.11 533.71,335.96 534.30,335.81 534.89,335.65 535.49,335.50 536.08,335.35 536.67,335.20 537.26,335.06 537.85,334.91 538.44,334.76 539.04,334.62 539.63,334.47 540.22,334.33 540.81,334.19 541.40,334.05 541.99,333.91 542.59,333.77 543.18,333.64 543.77,333.50 544.36,333.37 544.95,333.23 545.55,333.10 546.14,332.97 546.73,332.84 547.32,332.71 547.91,332.59 548.50,332.46 549.10,332.34 549.69,332.21 550.28,332.09 550.87,331.97 551.46,331.86 552.05,331.74 552.65,331.62 553.24,331.51 553.83,331.40 554.42,331.29 555.01,331.18 555.60,331.07 556.20,330.96 556.79,330.86 557.38,330.75 557.97,330.65 558.56,330.55 559.15,330.45 559.75,330.36 560.34,330.26 560.93,330.17 561.52,330.08 562.11,329.99 562.70,329.90 563.30,329.81 563.36,329.80 563.89,329.73 564.48,329.65 565.07,329.56 565.66,329.49 566.25,329.41 566.85,329.33 567.44,329.26 568.03,329.19 568.62,329.11 569.21,329.05 569.80,328.98 570.40,328.91 570.99,328.85 571.58,328.79 572.17,328.72 572.76,328.67 573.35,328.61 573.95,328.55 574.54,328.50 575.13,328.44 575.72,328.39 576.31,328.34 576.91,328.29 577.50,328.25 578.09,328.20 578.68,328.16 579.27,328.11 579.86,328.07 580.46,328.03 581.05,328.00 581.64,327.96 582.23,327.92 582.82,327.89 583.41,327.86 584.01,327.82 584.60,327.79 585.19,327.77 585.78,327.74 586.37,327.71 586.96,327.69 587.56,327.67 588.15,327.64 588.74,327.62 589.33,327.60 589.92,327.58 590.51,327.57 591.11,327.55 591.70,327.54 592.29,327.52 592.88,327.51 593.47,327.50 594.06,327.49 594.66,327.48 595.25,327.47 595.84,327.47 596.43,327.46 597.02,327.46 597.61,327.46 598.21,327.45 598.80,327.45 599.39,327.45 599.98,327.45 600.57,327.46 601.16,327.46 601.76,327.46 602.35,327.47 602.94,327.48 603.53,327.48 604.12,327.49 604.71,327.50 605.31,327.51 605.90,327.52 606.49,327.53 607.08,327.55 607.67,327.56 608.27,327.57 608.86,327.59 609.45,327.61 610.04,327.62 610.63,327.64 611.22,327.66 611.82,327.68 612.41,327.70 613.00,327.72 613.59,327.74 614.18,327.77 614.77,327.79 615.37,327.81 615.96,327.84 616.55,327.87 617.14,327.89 617.73,327.92 618.32,327.95 618.92,327.98 619.51,328.00 620.10,328.03 620.69,328.06 621.28,328.10 621.87,328.13 622.47,328.16 623.06,328.19 623.65,328.23 624.24,328.26 624.83,328.29 625.42,328.33 626.02,328.36 626.61,328.40 627.20,328.44 627.79,328.47 628.38,328.51 628.97,328.55 629.57,328.59 630.16,328.63 630.75,328.67 631.34,328.71 631.93,328.75 632.52,328.79 633.12,328.83 633.71,328.87 634.30,328.91 634.89,328.95 635.48,328.99 636.08,329.04 636.67,329.08 637.26,329.12 637.85,329.17 638.44,329.21 639.03,329.26 639.63,329.30 640.22,329.34 640.81,329.39 641.40,329.43 641.99,329.48 642.58,329.52 643.18,329.57 643.77,329.62 644.36,329.66 644.95,329.71 645.54,329.75 646.13,329.80 646.73,329.85 647.32,329.89 647.91,329.94 648.50,329.99 649.09,330.03 649.68,330.08 650.28,330.13 650.87,330.17 651.46,330.22" fill="none" stroke="#1f66d9" stroke-width="1.4" stroke-linejoin="round" />
<path d="M415.37,407.90L418.47,413.11L412.27,413.11Z" fill="#1f66d9"/>
<path d="M416.76,392.10L419.86,397.30L413.66,397.30Z" fill="#1f66d9"/>
<path d="M418.99,391.26L422.09,396.47L415.89,396.47Z" fill="#1f66d9"/>
<path d="M422.48,380.66L425.58,385.86L419.38,385.86Z" fill="#1f66d9"/>
<path d="M428.02,380.24L431.12,385.45L424.92,385.45Z" fill="#1f66d9"/>
<path d="M436.83,372.13L439.93,377.34L433.73,377.34Z" fill="#1f66d9"/>
<path d="M450.77,363.60L453.87,368.81L447.67,368.81Z" fill="#1f66d9"/>
<path d="M472.98,353.41L476.08,358.62L469.88,358.62Z" fill="#1f66d9"/>
<path d="M507.92,340.72L511.02,345.93L504.82,345.93Z" fill="#1f66d9"/>
<path d="M563.36,327.20L566.46,332.41L560.26,332.41Z" fill="#1f66d9"/>
<path d="M651.46,327.62L654.56,332.82L648.36,332.82Z" fill="#1f66d9"/>
<line x1="74.7" y1="22.3" x2="97.2" y2="22.3" stroke="#4d4d4d" stroke-width="1.4"/>
<rect x="84.75" y="21.10" width="2.4" height="2.4" fill="#4d4d4d"/>
<text x="100.0" y="25.6">fresh</text>
<line x1="123.8" y1="22.3" x2="146.9" y2="22.3" stroke="#e8343a" stroke-width="1.4"/>
<circle cx="135.35" cy="22.30" r="1.3" fill="#e8343a"/>
<text x="148.6" y="25.6">sterilization</text>
<line x1="200.2" y1="22.3" x2="222.8" y2="22.3" stroke="#1f66d9" stroke-width="1.4"/>
<path d="M211.50,20.36L213.10,23.04L209.90,23.04Z" fill="#1f66d9"/>
<text x="225.3" y="25.6">fermentation</text>
<line x1="433.0" y1="28.4" x2="455.4" y2="28.4" stroke="#4d4d4d" stroke-width="1.4"/>
<rect x="443.00" y="27.20" width="2.4" height="2.4" fill="#4d4d4d"/>
<text x="458.0" y="31.7">fresh</text>
<line x1="484.4" y1="28.4" x2="506.7" y2="28.4" stroke="#e8343a" stroke-width="1.4"/>
<circle cx="495.55" cy="28.40" r="1.3" fill="#e8343a"/>
<text x="508.9" y="31.7">sterilization</text>
<line x1="562.3" y1="28.4" x2="585.0" y2="28.4" stroke="#1f66d9" stroke-width="1.4"/>
<path d="M573.65,26.46L575.25,29.14L572.05,29.14Z" fill="#1f66d9"/>
<text x="587.4" y="31.7">fermentation</text>
<line x1="78.9" y1="316.3" x2="101.9" y2="316.3" stroke="#4d4d4d" stroke-width="1.4"/>
<rect x="87.90" y="313.80" width="5.0" height="5.0" fill="#4d4d4d"/>
<text x="104.2" y="319.7">fresh</text>
<line x1="128.5" y1="316.3" x2="151.4" y2="316.3" stroke="#e8343a" stroke-width="1.4"/>
<circle cx="139.95" cy="316.30" r="2.65" fill="#e8343a"/>
<text x="153.7" y="319.7">sterilization</text>
<line x1="205.0" y1="316.3" x2="227.9" y2="316.3" stroke="#1f66d9" stroke-width="1.4"/>
<path d="M216.45,313.18L219.45,318.22L213.45,318.22Z" fill="#1f66d9"/>
<text x="230.4" y="319.7">fermentation</text>
<line x1="449.6" y1="313.0" x2="471.9" y2="313.0" stroke="#4d4d4d" stroke-width="1.4"/>
<rect x="458.25" y="310.50" width="5.0" height="5.0" fill="#4d4d4d"/>
<text x="474.6" y="316.5">fresh</text>
<line x1="498.5" y1="313.0" x2="521.0" y2="313.0" stroke="#e8343a" stroke-width="1.4"/>
<circle cx="509.75" cy="313.00" r="2.65" fill="#e8343a"/>
<text x="523.2" y="316.5">sterilization</text>
<line x1="574.2" y1="313.0" x2="596.9" y2="313.0" stroke="#1f66d9" stroke-width="1.4"/>
<path d="M585.55,309.88L588.55,314.92L582.55,314.92Z" fill="#1f66d9"/>
<text x="599.4" y="316.5">fermentation</text>
<text x="176.50" y="274.8" text-anchor="middle">Shear rate (1/s)</text>
<text x="536.45" y="275.4" text-anchor="middle">Shear rate (1/s)</text>
<text x="177.40" y="578.0" text-anchor="middle">Angular frequency (rad/s)</text>
<text x="536.40" y="575.8" text-anchor="middle">Angular frequency (rad/s)</text>
<text transform="translate(17.6,161.2) rotate(-90)" x="0" y="0" style="font-size:9.85px">Stress<tspan dx="5.0" dy="-0.5" style="font-size:8.8px">(</tspan><tspan dx="0.9" dy="0.5">Pa</tspan><tspan dx="0.7" dy="-0.5" style="font-size:8.8px">)</tspan></text>
<text transform="translate(369.5,170.4) rotate(-90)" x="0" y="0" style="font-size:9.85px">Viscosity<tspan dx="5.0" dy="-0.5" style="font-size:8.8px">(</tspan><tspan dx="0.9" dy="0.5">Pa.s</tspan><tspan dx="0.7" dy="-0.5" style="font-size:8.8px">)</tspan></text>
<text transform="translate(13.9,484.6) rotate(-90)" x="0" y="0" style="font-size:10.0px">Storage modulus<tspan dx="5.0" dy="-0.5" style="font-size:8.8px">(</tspan><tspan dx="0.9" dy="0.5">Pa</tspan><tspan dx="0.7" dy="-0.5" style="font-size:8.8px">)</tspan></text>
<text transform="translate(370.9,478.7) rotate(-90)" x="0" y="0" style="font-size:9.85px">Loss modulus<tspan dx="5.0" dy="-0.5" style="font-size:8.8px">(</tspan><tspan dx="0.9" dy="0.5">Pa</tspan><tspan dx="0.7" dy="-0.5" style="font-size:8.8px">)</tspan></text>
<text x="2.0" y="14.3" style="font-weight:bold;font-size:18px;stroke-width:0.4px">A</text>
<text x="363.1" y="14.0" style="font-weight:bold;font-size:18px;stroke-width:0.4px">B</text>
<text x="1.6" y="314.3" style="font-weight:bold;font-size:18px;stroke-width:0.4px">C</text>
<text x="363.3" y="314.3" style="font-weight:bold;font-size:18px;stroke-width:0.4px">D</text>
</svg></body></html>
